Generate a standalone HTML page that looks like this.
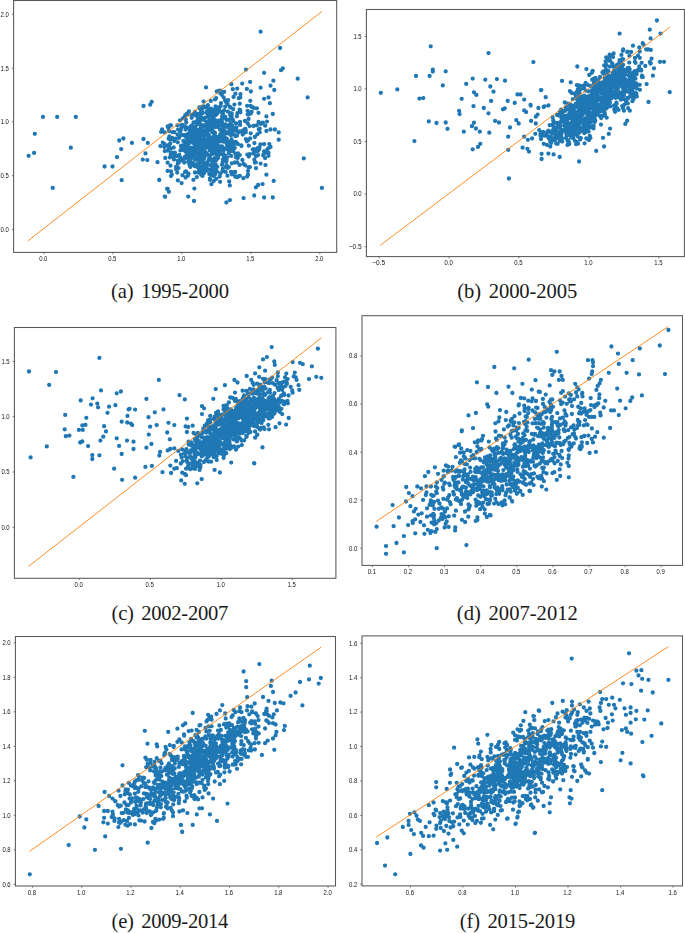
<!DOCTYPE html>
<html><head><meta charset="utf-8"><style>html,body{margin:0;padding:0;background:#fff}svg{display:block}.t{font-family:"Liberation Sans",sans-serif;font-size:7.3px;fill:#161616}.c{font-family:"Liberation Serif",serif;font-size:20.6px;fill:#1a1a1a;word-spacing:2.6px}</style></head><body>
<svg width="685" height="933" viewBox="0 0 685 933">
<defs><filter id="nf" filterUnits="userSpaceOnUse" x="0" y="0" width="685" height="933"><feOffset dx="0" dy="0"/></filter></defs>
<rect width="685" height="933" fill="#fff"/>
<g>
<path d="M43.0 116.9h0M57.2 116.9h0M75.8 116.9h0M34.8 133.8h0M34.1 152.9h0M28.6 155.8h0M70.8 147.7h0M52.7 187.9h0M104.6 166.5h0M112.5 166.5h0M117.0 157.1h0M121.2 149.1h0M119.2 140.5h0M123.4 138.5h0M131.9 142.9h0M121.7 180.2h0M143.5 139.0h0M147.8 142.9h0M145.5 153.4h0M142.8 159.6h0M147.3 160.1h0M159.2 179.9h0M167.1 188.9h0M168.9 191.8h0M165.1 196.8h0M143.5 106.0h0M150.2 104.7h0M151.7 101.8h0M260.6 31.7h0M280.1 48.0h0M246.0 69.6h0M264.1 72.8h0M281.0 70.2h0M282.8 68.5h0M297.7 78.7h0M307.6 97.4h0M303.8 158.4h0M321.9 187.9h0M273.4 80.7h0M270.5 85.7h0M274.3 90.0h0M260.6 87.7h0M250.1 81.9h0M242.2 83.6h0M231.4 84.2h0M206.0 87.4h0M216.8 91.5h0M232.8 89.2h0M237.2 88.6h0M246.9 88.9h0M250.9 91.5h0M264.1 98.8h0M268.5 97.4h0M269.9 103.2h0M272.8 114.0h0M266.4 116.4h0M267.0 121.6h0M266.4 131.0h0M270.5 129.5h0M274.9 129.5h0M278.7 132.4h0M278.7 139.7h0M258.8 129.5h0M259.7 132.4h0M264.1 144.1h0M269.3 144.1h0M270.5 147.0h0M264.1 151.4h0M268.5 152.8h0M268.5 155.8h0M260.6 163.6h0M265.5 165.1h0M266.4 174.7h0M273.7 180.9h0M258.2 185.0h0M262.6 184.1h0M255.9 187.3h0M254.2 195.5h0M264.1 197.5h0M272.8 197.5h0M243.6 198.1h0M226.4 202.5h0M229.9 200.1h0M194.0 201.0h0M188.2 196.6h0M164.8 196.6h0M167.7 188.8h0M159.3 180.0h0M157.5 162.2h0M160.4 146.1h0M162.8 142.6h0M232.6 145.7h0M195.5 166.2h0M234.7 147.8h0M210.1 146.6h0M199.0 152.6h0M224.1 157.3h0M201.6 160.7h0M205.3 133.2h0M185.6 129.6h0M220.1 129.8h0M220.1 151.1h0M202.5 161.4h0M199.9 135.9h0M192.6 155.0h0M192.7 163.0h0M193.0 148.0h0M185.3 146.0h0M233.2 121.3h0M201.3 160.9h0M191.7 117.8h0M205.4 155.1h0M207.9 105.2h0M206.6 132.2h0M209.7 148.6h0M184.9 156.7h0M201.0 134.6h0M219.0 122.5h0M209.5 126.4h0M191.6 125.7h0M213.4 146.4h0M213.0 142.5h0M224.1 110.3h0M179.7 161.1h0M207.3 127.3h0M210.0 178.4h0M199.3 130.8h0M208.5 129.0h0M200.7 148.8h0M207.8 135.5h0M208.0 140.7h0M193.0 140.9h0M206.7 123.0h0M225.3 133.8h0M198.1 157.5h0M211.9 140.2h0M198.6 145.1h0M193.9 134.9h0M196.9 124.5h0M211.5 131.0h0M185.7 147.1h0M217.3 156.9h0M200.0 144.9h0M180.9 146.0h0M219.2 154.6h0M210.6 165.5h0M203.9 173.2h0M223.9 130.3h0M204.1 158.0h0M226.5 101.4h0M172.5 132.2h0M232.6 128.7h0M183.9 135.2h0M201.4 155.8h0M183.4 141.0h0M218.2 150.7h0M213.5 161.5h0M218.4 138.6h0M201.4 146.8h0M219.6 125.6h0M213.7 138.5h0M205.9 132.4h0M208.6 130.4h0M212.2 143.2h0M202.2 146.8h0M204.9 164.0h0M195.7 164.7h0M208.9 147.9h0M213.1 144.3h0M221.6 134.5h0M193.4 131.4h0M205.3 147.8h0M227.5 141.6h0M216.3 145.8h0M182.6 145.5h0M213.2 117.9h0M202.7 155.6h0M214.3 136.4h0M209.4 143.7h0M224.6 130.8h0M237.4 113.2h0M215.9 169.4h0M215.0 133.0h0M218.6 120.6h0M197.7 131.4h0M194.9 112.0h0M181.6 183.1h0M176.1 169.2h0M185.3 115.1h0M198.9 169.9h0M223.8 148.2h0M183.2 135.2h0M215.3 148.2h0M228.9 133.7h0M232.5 125.8h0M231.5 133.2h0M195.2 150.6h0M192.5 151.5h0M208.8 138.9h0M216.0 108.0h0M202.5 166.7h0M184.2 162.6h0M175.7 138.6h0M196.0 152.3h0M204.5 169.0h0M189.7 136.7h0M215.2 148.4h0M235.8 157.2h0M198.6 150.0h0M210.9 160.6h0M240.0 121.9h0M212.0 152.4h0M206.4 170.7h0M218.3 146.2h0M206.9 121.6h0M209.5 137.6h0M209.3 155.5h0M219.0 111.5h0M217.7 123.8h0M189.4 164.5h0M179.7 130.0h0M200.2 120.3h0M191.1 156.2h0M206.2 126.9h0M205.6 139.8h0M204.9 140.7h0M185.3 148.8h0M201.4 146.0h0M213.1 153.4h0M203.1 149.8h0M211.8 127.5h0M188.1 138.8h0M190.2 164.4h0M199.8 116.4h0M204.8 156.3h0M215.3 151.2h0M223.9 132.1h0M228.5 148.0h0M215.9 141.2h0M192.1 163.6h0M202.2 159.0h0M209.4 157.2h0M215.3 123.3h0M192.4 126.5h0M200.5 124.5h0M212.1 121.3h0M187.4 151.5h0M229.6 146.8h0M197.5 123.3h0M196.9 140.6h0M202.7 144.4h0M201.7 148.0h0M212.5 162.4h0M222.0 121.7h0M201.2 130.6h0M192.5 157.5h0M207.3 146.5h0M196.8 158.5h0M195.0 130.2h0M171.0 148.6h0M200.5 132.2h0M214.7 134.8h0M204.9 152.2h0M219.3 146.5h0M236.2 123.5h0M241.4 146.0h0M174.3 141.0h0M219.3 138.5h0M178.0 160.7h0M215.2 143.8h0M202.6 147.7h0M188.5 158.8h0M180.0 120.3h0M196.4 138.0h0M186.9 135.4h0M172.3 138.0h0M204.0 106.3h0M182.0 149.9h0M210.9 119.7h0M197.3 144.8h0M167.6 170.9h0M212.4 121.6h0M199.7 108.6h0M234.9 135.1h0M191.2 128.3h0M209.9 179.8h0M200.6 116.3h0M198.1 159.5h0M240.0 131.4h0M196.3 140.4h0M204.9 151.5h0M225.4 117.1h0M219.1 141.0h0M224.4 138.4h0M212.6 122.8h0M218.5 107.3h0M212.4 171.6h0M184.6 126.3h0M198.9 138.9h0M189.9 130.8h0M197.9 119.9h0M195.4 126.9h0M216.2 153.1h0M223.5 153.9h0M190.4 135.6h0M193.8 158.1h0M198.6 163.8h0M222.6 127.1h0M203.4 146.3h0M212.3 109.7h0M219.6 148.1h0M218.0 141.7h0M201.1 111.6h0M197.3 154.9h0M212.4 153.9h0M213.5 161.0h0M191.3 136.2h0M229.8 125.1h0M225.2 106.6h0M222.5 154.5h0M202.8 133.2h0M197.4 138.2h0M177.3 167.7h0M213.7 181.1h0M185.5 150.5h0M174.9 152.6h0M190.8 153.7h0M200.1 142.0h0M194.8 145.5h0M194.2 137.4h0M233.8 130.8h0M207.5 163.9h0M216.5 153.6h0M190.6 138.5h0M207.7 123.0h0M229.5 145.5h0M206.8 111.6h0M221.2 125.7h0M227.1 147.4h0M215.6 115.1h0M232.5 149.3h0M200.2 138.5h0M199.6 152.6h0M216.4 146.4h0M173.7 147.5h0M197.2 159.5h0M177.6 134.6h0M199.8 123.4h0M227.2 157.3h0M201.5 172.0h0M222.0 164.7h0M202.1 126.2h0M200.7 118.8h0M189.6 142.2h0M219.3 141.6h0M228.5 126.3h0M215.8 138.4h0M180.4 150.4h0M196.6 135.0h0M211.0 108.6h0M207.0 133.9h0M211.0 144.5h0M201.4 125.2h0M218.0 150.8h0M185.4 151.4h0M224.6 137.9h0M234.7 148.0h0M194.3 152.8h0M213.4 110.4h0M205.2 117.6h0M216.0 122.5h0M196.5 121.7h0M186.1 141.1h0M188.1 158.6h0M179.4 161.5h0M210.6 143.2h0M181.3 125.2h0M210.4 123.9h0M218.1 151.4h0M171.0 171.3h0M225.7 155.9h0M218.6 150.3h0M211.4 174.5h0M224.7 138.1h0M219.9 135.5h0M218.3 141.3h0M217.4 166.8h0M185.9 137.0h0M203.9 148.3h0M201.5 135.9h0M194.3 138.1h0M188.8 156.4h0M221.6 119.2h0M185.6 135.1h0M186.6 136.6h0M171.8 174.7h0M195.8 149.8h0M229.1 119.7h0M231.7 113.4h0M199.7 150.3h0M223.0 137.2h0M201.9 168.8h0M196.7 164.1h0M216.5 148.6h0M198.9 121.6h0M186.5 144.2h0M171.9 153.0h0M211.6 126.2h0M189.1 143.3h0M210.1 142.5h0M207.2 134.8h0M211.4 159.6h0M237.7 158.1h0M212.3 130.1h0M217.5 137.2h0M188.6 152.4h0M196.1 144.3h0M199.9 147.8h0M222.1 116.1h0M184.2 158.9h0M190.9 126.4h0M203.5 118.3h0M196.3 146.2h0M181.3 128.2h0M198.3 172.6h0M194.4 188.6h0M204.0 142.1h0M209.5 115.4h0M199.4 131.1h0M210.0 145.6h0M168.7 138.7h0M195.9 146.5h0M182.7 146.0h0M206.4 142.8h0M202.2 125.9h0M221.2 125.5h0M198.0 164.3h0M212.1 153.8h0M205.8 125.4h0M177.7 163.7h0M202.2 157.8h0M213.7 140.9h0M210.1 155.1h0M231.1 135.3h0M226.9 144.5h0M214.7 152.8h0M188.2 161.9h0M203.8 148.1h0M231.1 155.9h0M185.8 119.6h0M215.1 174.3h0M213.1 136.9h0M167.6 162.7h0M204.3 130.9h0M221.0 136.8h0M222.4 140.7h0M189.8 165.5h0M213.9 176.0h0M216.3 160.0h0M198.4 136.9h0M225.6 171.9h0M190.7 147.6h0M194.3 131.8h0M168.6 149.2h0M211.9 140.7h0M223.6 159.8h0M223.7 150.3h0M217.1 145.7h0M218.6 125.3h0M179.3 155.0h0M203.0 148.7h0M191.5 115.0h0M208.2 114.9h0M194.8 166.2h0M206.9 153.3h0M224.5 141.5h0M198.9 146.3h0M210.7 126.7h0M202.5 156.8h0M186.1 151.3h0M214.5 132.5h0M204.3 154.8h0M207.1 132.8h0M203.9 142.1h0M202.0 128.4h0M197.0 143.1h0M211.4 128.7h0M230.4 123.4h0M214.9 166.9h0M215.0 99.4h0M190.3 166.9h0M200.9 126.8h0M213.6 149.5h0M203.9 125.5h0M221.9 131.9h0M215.2 146.7h0M187.7 146.4h0M213.0 166.2h0M195.6 153.5h0M209.2 147.1h0M212.2 139.7h0M222.9 168.7h0M233.2 109.1h0M205.4 132.0h0M215.0 153.7h0M207.4 129.0h0M209.9 123.3h0M206.2 142.0h0M191.3 154.8h0M196.6 115.9h0M208.7 160.5h0M211.4 145.1h0M177.8 142.3h0M188.0 175.5h0M213.1 168.0h0M196.9 142.8h0M215.1 127.1h0M203.9 159.1h0M237.8 144.0h0M235.7 141.9h0M224.6 118.2h0M186.5 143.5h0M217.6 127.1h0M201.1 139.6h0M197.8 167.2h0M221.5 148.4h0M228.4 125.3h0M189.2 151.9h0M199.6 161.2h0M213.2 149.7h0M232.7 119.3h0M189.4 149.2h0M200.7 173.3h0M220.6 121.6h0M220.5 146.9h0M223.0 141.7h0M220.7 106.1h0M207.0 168.6h0M199.1 134.2h0M225.6 157.4h0M201.3 140.8h0M212.1 125.1h0M188.2 156.9h0M222.0 131.2h0M212.3 121.2h0M206.4 133.9h0M199.1 169.9h0M182.2 149.9h0M201.1 156.8h0M210.1 158.1h0M206.5 143.7h0M229.7 130.0h0M211.4 145.8h0M214.6 158.1h0M207.6 143.9h0M201.4 148.9h0M208.0 126.1h0M195.4 154.2h0M207.3 145.2h0M211.2 128.9h0M226.8 138.7h0M165.3 158.0h0M210.7 145.3h0M213.3 146.9h0M178.5 168.1h0M189.7 137.9h0M214.3 113.6h0M215.7 164.5h0M180.3 131.6h0M231.6 139.4h0M214.2 167.8h0M171.0 176.0h0M198.4 155.3h0M200.6 154.0h0M216.3 114.5h0M205.2 107.3h0M193.6 156.9h0M211.3 148.1h0M224.9 148.8h0M227.4 133.0h0M201.1 142.5h0M166.9 145.4h0M212.9 139.3h0M177.9 180.4h0M214.7 119.5h0M232.1 151.0h0M186.8 154.6h0M170.5 165.7h0M219.3 109.8h0M209.4 112.9h0M211.7 138.2h0M201.6 141.6h0M200.2 147.9h0M193.2 143.0h0M204.8 170.4h0M200.4 160.7h0M169.2 146.8h0M231.5 150.7h0M224.8 117.2h0M170.3 139.7h0M215.4 137.5h0M209.5 141.3h0M232.7 141.9h0M201.1 144.9h0M209.3 174.0h0M228.5 132.0h0M214.4 137.2h0M201.4 151.4h0M206.2 140.7h0M224.5 131.2h0M202.3 109.0h0M182.5 175.2h0M210.7 145.7h0M174.0 159.6h0M192.3 127.6h0M193.9 128.6h0M212.5 145.0h0M204.9 136.1h0M164.8 151.1h0M198.0 113.8h0M192.6 127.3h0M209.3 146.8h0M202.5 149.3h0M211.9 144.0h0M173.7 157.4h0M243.1 130.5h0M209.6 150.2h0M207.6 139.8h0M200.1 129.9h0M188.6 151.5h0M213.3 145.9h0M237.0 135.7h0M209.9 170.0h0M181.5 135.2h0M210.6 137.7h0M247.2 176.6h0M251.6 111.8h0M248.0 174.4h0M201.8 151.6h0M220.4 134.1h0M231.6 116.0h0M235.3 176.7h0M202.7 113.0h0M229.9 130.6h0M178.5 162.1h0M204.4 136.7h0M234.9 162.5h0M178.7 162.7h0M253.4 149.2h0M222.9 159.6h0M207.6 129.9h0M210.2 127.6h0M212.4 126.9h0M255.8 162.4h0M170.7 154.5h0M196.5 130.8h0M258.6 122.0h0M216.5 143.8h0M207.0 162.3h0M258.1 155.1h0M194.6 114.8h0M220.1 181.8h0M231.9 174.3h0M257.3 148.3h0M213.4 165.0h0M247.8 123.4h0M216.0 143.7h0M190.0 160.3h0M231.1 113.1h0M239.8 175.8h0M248.6 167.5h0M201.2 174.8h0M218.1 157.9h0M187.7 127.7h0M188.8 149.0h0M176.6 156.0h0M221.5 112.2h0M245.0 121.0h0M240.1 124.9h0M207.8 164.6h0M177.2 172.5h0M200.8 158.0h0M235.2 172.0h0M248.8 156.6h0M208.0 108.3h0M249.6 154.2h0M169.4 136.4h0M193.3 165.1h0M181.9 148.0h0M265.1 158.1h0M250.6 105.8h0M188.9 111.4h0M219.5 90.6h0M248.8 145.7h0M253.4 153.4h0M221.0 103.2h0M170.2 143.6h0M240.4 112.3h0M232.9 145.3h0M268.2 148.3h0M245.7 130.0h0M212.2 173.6h0M256.7 125.3h0M208.8 159.4h0M222.0 146.3h0M226.6 139.3h0M169.9 125.9h0M247.3 154.7h0M245.2 128.8h0M257.9 150.9h0M216.2 109.8h0M221.0 146.6h0M228.6 141.6h0M254.3 159.6h0M233.6 96.9h0M236.2 142.6h0M222.7 162.3h0M209.3 120.2h0M216.1 98.2h0M249.9 167.1h0M206.7 112.8h0M208.8 134.8h0M204.6 143.0h0M174.7 154.8h0M181.7 160.0h0M164.4 147.1h0M218.9 121.5h0M221.8 94.8h0M254.9 162.6h0M240.2 110.3h0M224.2 91.8h0M190.9 135.6h0M229.9 107.0h0M199.8 163.1h0M249.5 126.1h0M186.2 122.6h0M250.7 133.3h0M241.4 145.5h0M263.6 154.8h0M180.3 157.4h0M215.5 106.5h0M196.9 159.1h0M199.9 117.7h0M201.5 113.1h0M167.9 150.7h0M215.3 143.5h0M222.4 171.3h0M201.6 106.9h0M238.8 98.2h0M188.4 135.6h0M253.7 107.9h0M185.8 143.5h0M250.8 113.5h0M171.3 152.9h0M187.5 114.6h0M238.2 154.6h0M240.5 94.1h0M203.9 156.3h0M236.7 176.3h0M222.9 113.2h0M206.3 129.8h0M243.6 163.9h0M222.8 134.0h0M194.9 172.5h0M230.0 129.1h0M211.0 143.6h0M217.2 113.5h0M247.6 110.8h0M248.6 119.0h0M209.6 147.7h0M168.4 127.9h0M205.6 166.6h0M213.2 126.2h0M265.2 152.8h0M224.8 137.9h0M170.0 125.3h0M186.0 171.3h0M206.8 168.8h0M257.3 134.3h0M242.4 160.0h0M188.5 173.7h0M232.9 172.8h0M193.6 122.5h0M234.1 172.6h0M230.1 114.9h0M190.6 129.0h0M204.9 148.0h0M254.4 143.1h0M169.9 139.4h0M169.0 131.0h0M223.6 97.3h0M204.7 145.1h0M178.1 129.6h0M231.2 144.1h0M231.8 141.0h0M209.8 112.2h0M267.3 149.7h0M259.2 149.3h0M228.8 152.9h0M203.6 101.6h0M247.7 114.4h0M185.1 171.9h0M218.7 123.8h0M188.0 133.9h0M208.4 116.9h0M239.6 109.6h0M170.6 125.1h0M185.5 151.5h0M231.1 149.3h0M199.5 142.4h0M250.3 100.8h0M260.4 144.3h0M255.5 151.6h0M245.3 165.4h0M259.7 128.7h0M239.8 155.1h0M182.3 124.9h0M231.0 116.3h0M265.2 125.7h0M258.5 112.8h0M167.7 126.4h0M171.0 125.3h0M234.6 143.8h0M225.1 100.2h0M226.0 102.0h0M188.0 154.9h0M248.4 114.4h0M194.1 132.8h0M239.6 164.9h0M231.0 171.9h0M227.8 111.6h0M242.7 134.2h0M194.7 159.4h0M220.4 93.2h0M216.3 178.8h0M259.5 147.2h0M177.3 125.3h0M254.8 137.0h0M212.1 137.9h0M236.9 116.3h0M195.9 159.7h0M184.9 117.1h0M260.8 123.9h0M193.4 179.8h0M203.4 166.7h0M185.6 177.5h0M202.5 175.9h0M256.0 168.2h0M242.7 134.6h0M197.7 119.6h0M190.9 131.9h0M235.4 93.7h0M231.8 163.3h0M204.8 125.1h0M220.4 173.4h0M225.4 124.4h0M228.9 167.1h0M218.2 126.9h0M237.4 177.2h0M237.0 131.0h0M227.5 175.7h0M205.1 139.4h0M200.4 148.0h0M226.8 127.1h0M252.8 149.6h0M222.0 133.9h0M224.7 156.9h0M212.1 115.7h0M237.2 162.4h0M188.6 133.7h0M179.0 137.9h0M227.6 167.9h0M192.8 138.6h0M228.1 149.7h0M250.1 138.4h0M228.1 100.2h0M219.7 176.5h0M222.0 125.0h0M193.8 114.0h0M211.9 112.0h0M246.9 141.3h0M180.9 129.6h0M225.1 116.6h0M235.3 153.5h0M240.3 97.4h0M186.6 152.4h0M227.6 104.0h0M219.1 148.3h0M201.2 128.4h0M196.8 177.1h0M225.9 166.8h0M161.1 131.8h0M164.4 144.1h0M248.3 140.0h0M247.2 105.8h0M187.0 113.7h0M216.9 171.6h0M191.2 154.2h0M192.1 130.2h0M211.4 184.2h0M210.0 110.2h0M174.3 132.2h0M220.7 91.0h0M248.0 170.8h0M194.9 131.2h0M217.4 152.4h0M230.5 107.5h0M204.9 139.3h0M226.5 161.2h0M235.5 136.2h0M169.9 157.4h0M263.3 155.4h0M213.0 125.5h0M236.5 143.3h0M256.0 156.2h0M229.8 185.4h0M263.4 154.7h0M233.4 172.1h0M162.1 129.3h0M203.5 156.4h0M211.5 128.6h0M226.5 165.2h0M212.5 132.3h0M200.6 160.0h0M164.7 132.4h0M199.3 107.5h0M233.0 150.8h0M210.8 100.9h0M183.1 118.2h0M212.7 145.6h0M176.0 166.9h0M198.7 129.7h0M226.7 119.9h0M238.0 153.4h0M229.2 181.4h0M256.9 108.3h0M238.7 132.3h0M213.9 139.9h0M184.7 150.1h0M226.6 158.6h0M222.1 140.9h0M245.8 132.3h0M236.4 127.6h0M262.9 122.6h0M207.3 144.6h0M203.8 120.0h0M232.0 131.3h0M251.7 106.9h0M223.1 127.8h0M201.0 170.0h0M188.4 161.1h0M214.3 171.7h0M234.4 104.6h0M245.9 139.2h0M200.0 166.6h0M206.2 154.8h0M239.8 103.7h0M202.1 162.8h0M243.4 178.2h0M253.5 126.0h0M188.7 160.9h0" stroke="#1f77b4" stroke-width="4.30" stroke-linecap="round" fill="none"/>
<line x1="28.0" y1="240.8" x2="322.0" y2="11.4" stroke="#ff7f0e" stroke-width="0.9"/>
<rect x="13.6" y="0.5" width="323.1" height="251.9" fill="none" stroke="#585858" stroke-width="1.05"/>
<path d="M43.8 252.4v1.8M112.8 252.4v1.8M181.8 252.4v1.8M250.8 252.4v1.8M319.8 252.4v1.8M13.6 229.4h-1.8M13.6 175.7h-1.8M13.6 121.9h-1.8M13.6 68.2h-1.8M13.6 14.4h-1.8" stroke="#4a4a4a" stroke-width="0.7" fill="none"/>
<g filter="url(#nf)"><text class="t" x="43.3" y="261.2" text-anchor="middle" textLength="8.3" lengthAdjust="spacingAndGlyphs">0.0</text><text class="t" x="112.3" y="261.2" text-anchor="middle" textLength="8.3" lengthAdjust="spacingAndGlyphs">0.5</text><text class="t" x="181.3" y="261.2" text-anchor="middle" textLength="8.3" lengthAdjust="spacingAndGlyphs">1.0</text><text class="t" x="250.3" y="261.2" text-anchor="middle" textLength="8.3" lengthAdjust="spacingAndGlyphs">1.5</text><text class="t" x="319.3" y="261.2" text-anchor="middle" textLength="8.3" lengthAdjust="spacingAndGlyphs">2.0</text><text class="t" x="8.9" y="231.7" text-anchor="end" textLength="8.3" lengthAdjust="spacingAndGlyphs">0.0</text><text class="t" x="8.9" y="178.0" text-anchor="end" textLength="8.3" lengthAdjust="spacingAndGlyphs">0.5</text><text class="t" x="8.9" y="124.2" text-anchor="end" textLength="8.3" lengthAdjust="spacingAndGlyphs">1.0</text><text class="t" x="8.9" y="70.5" text-anchor="end" textLength="8.3" lengthAdjust="spacingAndGlyphs">1.5</text><text class="t" x="8.9" y="16.7" text-anchor="end" textLength="8.3" lengthAdjust="spacingAndGlyphs">2.0</text></g>
<text class="c" x="111.0" y="298.0" textLength="118.0" lengthAdjust="spacing">(a) 1995-2000</text>
</g>
<g>
<path d="M380.8 92.8h0M397.3 89.4h0M430.7 46.3h0M416.0 76.0h0M429.6 76.0h0M432.8 69.7h0M432.8 71.5h0M445.7 71.3h0M442.8 85.4h0M419.4 98.6h0M423.3 98.1h0M428.8 121.4h0M436.5 123.0h0M445.7 122.5h0M447.5 128.8h0M414.4 141.1h0M461.7 98.8h0M459.1 110.9h0M459.6 114.1h0M466.2 83.9h0M472.7 78.6h0M474.0 92.3h0M476.4 94.9h0M473.5 106.2h0M474.0 122.7h0M471.9 126.2h0M475.9 128.5h0M479.8 131.7h0M463.8 131.7h0M472.7 149.3h0M478.0 146.9h0M480.3 143.8h0M488.5 53.1h0M485.3 79.7h0M490.3 86.5h0M493.5 91.7h0M496.9 79.1h0M505.0 80.7h0M491.1 100.9h0M483.8 108.0h0M488.5 113.3h0M489.3 132.7h0M495.1 120.9h0M499.0 122.5h0M502.9 109.3h0M504.8 108.3h0M507.7 100.9h0M514.8 102.8h0M517.4 94.4h0M520.5 94.4h0M524.2 99.6h0M530.5 104.9h0M533.4 62.1h0M541.0 90.2h0M524.2 110.4h0M526.1 112.0h0M516.3 120.1h0M518.7 123.5h0M510.0 127.5h0M508.2 136.7h0M508.2 149.8h0M531.1 120.9h0M535.8 116.7h0M537.6 114.6h0M538.4 108.0h0M543.7 107.0h0M535.8 123.5h0M524.2 136.7h0M527.9 139.8h0M532.1 138.5h0M535.3 133.8h0M539.2 130.1h0M541.0 139.0h0M522.6 147.7h0M527.4 148.8h0M529.0 151.6h0M541.6 153.8h0M541.6 159.0h0M543.7 143.8h0M656.9 20.5h0M649.8 29.7h0M660.5 33.6h0M650.6 38.4h0M619.6 33.6h0M633.0 45.7h0M643.5 44.7h0M648.2 49.4h0M650.8 49.9h0M651.6 58.6h0M660.0 61.8h0M664.0 61.8h0M669.7 92.2h0M654.0 68.3h0M652.9 75.7h0M648.5 102.0h0M577.3 66.5h0M586.4 69.1h0M562.0 80.9h0M570.7 82.3h0M541.3 90.1h0M545.7 97.2h0M606.2 57.3h0M609.6 54.7h0M623.2 49.4h0M627.2 52.0h0M631.1 52.0h0M579.1 161.5h0M559.7 157.0h0M548.4 153.6h0M553.6 154.4h0M596.2 150.9h0M604.1 146.5h0M508.9 178.5h0M603.0 137.8h0M608.8 133.9h0M610.1 128.6h0M625.3 123.9h0M627.2 120.7h0M629.8 110.7h0M514.7 102.9h0M530.7 105.5h0M544.4 106.3h0M548.4 105.5h0M547.0 132.5h0M548.4 136.5h0M547.0 144.9h0M589.4 103.1h0M558.6 137.0h0M610.0 102.6h0M575.1 125.2h0M611.1 56.0h0M599.7 108.9h0M610.8 93.6h0M598.3 80.3h0M582.0 108.0h0M579.1 112.3h0M604.5 103.5h0M591.2 104.1h0M584.5 121.5h0M567.0 121.7h0M592.7 71.0h0M544.3 135.7h0M607.1 71.2h0M610.0 97.4h0M598.8 88.2h0M591.7 90.6h0M631.6 74.2h0M612.4 84.0h0M580.2 108.3h0M621.1 82.9h0M590.4 102.6h0M608.5 71.2h0M584.6 99.6h0M603.6 115.5h0M589.4 104.1h0M597.9 91.7h0M553.1 129.8h0M583.6 125.5h0M610.5 76.6h0M584.1 95.6h0M590.2 100.9h0M574.2 93.6h0M614.3 109.5h0M594.5 99.5h0M617.2 64.8h0M589.7 120.1h0M629.4 55.9h0M588.4 98.6h0M607.3 81.3h0M603.3 73.5h0M559.9 111.7h0M607.3 91.4h0M624.8 70.2h0M573.4 109.1h0M639.8 57.8h0M582.7 115.1h0M591.5 108.0h0M578.6 118.4h0M592.6 106.6h0M583.1 119.2h0M575.9 107.2h0M591.5 95.3h0M616.6 65.1h0M615.6 95.1h0M623.6 98.9h0M596.2 103.6h0M575.0 105.8h0M594.7 85.2h0M565.6 109.8h0M609.9 85.0h0M567.0 122.9h0M638.9 69.8h0M614.3 74.2h0M612.2 84.8h0M593.7 125.9h0M612.4 79.2h0M623.8 79.5h0M637.7 70.9h0M570.7 104.7h0M588.3 119.5h0M601.6 83.2h0M604.2 84.6h0M606.9 78.9h0M590.6 112.8h0M607.6 92.4h0M585.5 90.6h0M628.6 68.2h0M588.6 96.4h0M617.3 72.7h0M566.2 124.6h0M606.8 80.9h0M620.3 68.8h0M573.4 123.9h0M571.4 92.9h0M602.8 84.9h0M621.9 81.6h0M573.0 120.5h0M595.4 78.3h0M618.2 94.2h0M613.6 74.2h0M575.0 114.9h0M557.4 122.8h0M591.7 118.1h0M583.1 104.1h0M586.4 100.8h0M611.1 96.5h0M591.8 72.8h0M601.5 104.0h0M600.1 111.5h0M624.1 70.9h0M623.1 64.8h0M607.5 75.8h0M603.1 100.4h0M575.9 118.6h0M560.4 125.7h0M569.3 144.1h0M596.9 100.5h0M595.2 90.8h0M584.9 100.9h0M610.2 90.7h0M592.4 93.1h0M600.0 92.1h0M545.6 135.4h0M607.2 90.4h0M606.3 64.8h0M600.7 85.1h0M579.7 120.9h0M588.0 116.6h0M598.6 107.4h0M594.8 116.8h0M561.8 132.4h0M574.9 122.0h0M585.1 110.3h0M622.2 59.4h0M615.0 87.3h0M632.3 89.2h0M553.5 126.6h0M598.7 97.0h0M599.5 115.8h0M572.9 99.2h0M621.8 86.8h0M642.0 75.7h0M586.0 101.3h0M572.0 122.1h0M594.9 103.3h0M618.3 72.5h0M574.2 123.0h0M602.8 92.9h0M581.1 103.3h0M617.1 89.2h0M616.4 102.6h0M562.7 116.5h0M580.1 122.5h0M592.9 108.5h0M606.1 108.4h0M601.2 118.0h0M612.2 77.7h0M629.7 69.4h0M584.1 88.2h0M614.7 106.2h0M615.5 85.3h0M623.6 80.9h0M616.4 79.1h0M611.9 85.3h0M589.5 101.5h0M612.9 78.9h0M634.9 61.8h0M613.0 57.0h0M600.2 87.1h0M585.3 105.0h0M635.5 62.8h0M631.2 83.9h0M567.4 115.4h0M626.7 89.8h0M595.0 105.5h0M608.1 88.8h0M619.6 60.1h0M593.8 114.2h0M611.4 87.6h0M624.4 77.4h0M617.3 76.5h0M594.5 104.3h0M617.5 82.4h0M614.6 81.5h0M570.1 113.3h0M633.4 72.6h0M573.6 108.3h0M639.7 51.5h0M635.0 58.0h0M594.1 97.0h0M596.5 86.0h0M579.0 90.4h0M602.0 97.8h0M617.0 108.0h0M580.1 118.1h0M617.1 87.4h0M630.6 76.4h0M610.4 95.4h0M624.6 78.5h0M610.4 92.6h0M574.5 116.9h0M623.3 89.4h0M564.5 125.5h0M616.2 95.4h0M586.6 102.2h0M591.4 97.2h0M625.4 74.4h0M597.3 86.4h0M597.4 108.6h0M576.1 127.1h0M641.6 62.8h0M611.7 76.0h0M577.8 103.2h0M586.1 131.9h0M594.0 112.8h0M591.2 96.6h0M649.8 62.2h0M595.1 93.2h0M602.9 94.0h0M574.5 126.2h0M594.7 113.3h0M584.0 122.7h0M623.9 95.2h0M641.3 69.9h0M575.2 128.7h0M616.2 68.5h0M579.8 105.5h0M595.4 100.9h0M602.1 82.7h0M603.4 92.5h0M614.1 105.5h0M576.7 92.2h0M569.4 113.1h0M581.0 114.1h0M567.9 103.6h0M556.2 143.5h0M578.4 95.7h0M605.5 81.2h0M598.4 92.4h0M609.8 66.7h0M604.3 109.9h0M624.4 74.2h0M574.0 116.6h0M576.8 85.1h0M591.1 127.0h0M605.5 100.7h0M627.6 71.2h0M559.0 132.3h0M574.4 123.8h0M584.4 132.3h0M603.2 103.1h0M578.8 100.9h0M641.2 70.6h0M611.4 93.0h0M597.1 109.2h0M585.5 109.5h0M591.0 95.8h0M650.8 63.3h0M595.3 120.5h0M569.0 127.8h0M599.2 83.0h0M605.8 65.6h0M594.7 122.0h0M601.9 91.2h0M580.4 113.6h0M585.6 82.9h0M585.1 123.8h0M605.0 113.9h0M608.3 82.6h0M579.9 117.0h0M585.3 84.7h0M607.6 103.9h0M570.9 117.7h0M598.5 105.4h0M605.3 92.7h0M622.9 71.0h0M596.7 95.0h0M579.0 99.0h0M607.3 94.0h0M601.4 100.1h0M610.4 81.5h0M580.9 108.9h0M591.6 97.5h0M604.5 80.8h0M616.3 86.9h0M587.0 111.9h0M579.5 132.6h0M612.3 85.8h0M594.0 120.3h0M596.5 88.3h0M612.1 85.9h0M574.6 113.9h0M598.8 86.0h0M615.9 85.4h0M598.0 86.8h0M609.0 89.5h0M550.2 141.2h0M617.5 78.8h0M620.1 83.2h0M600.6 83.5h0M614.2 78.3h0M623.1 59.1h0M629.9 92.6h0M587.9 107.8h0M590.6 122.7h0M627.9 85.7h0M601.0 124.6h0M587.4 107.3h0M577.8 101.8h0M579.4 87.4h0M611.3 89.6h0M570.1 107.8h0M603.5 71.4h0M579.3 112.4h0M591.9 103.3h0M622.4 66.1h0M584.4 107.4h0M593.6 87.7h0M594.8 112.7h0M591.0 101.8h0M619.3 62.9h0M627.6 68.2h0M587.2 96.6h0M594.5 106.6h0M605.2 85.0h0M618.1 92.0h0M561.3 117.6h0M577.0 99.1h0M574.0 121.9h0M588.2 104.5h0M586.7 107.8h0M617.0 80.0h0M598.1 80.5h0M568.1 104.4h0M634.0 86.2h0M604.4 107.7h0M551.1 143.1h0M610.1 76.9h0M590.1 113.3h0M588.5 112.6h0M593.0 101.4h0M647.2 49.4h0M595.2 97.3h0M605.7 99.2h0M551.7 141.2h0M593.2 98.3h0M582.2 120.2h0M592.3 99.8h0M611.0 89.2h0M608.0 101.3h0M616.4 82.6h0M567.7 122.7h0M600.6 107.8h0M614.5 87.7h0M608.4 100.9h0M605.2 81.1h0M588.4 105.9h0M585.5 101.4h0M599.0 88.8h0M597.0 113.3h0M568.9 124.3h0M608.6 58.6h0M617.8 88.7h0M553.0 124.1h0M598.7 111.1h0M618.4 80.2h0M589.1 127.8h0M620.0 78.2h0M592.8 112.4h0M590.2 86.0h0M610.1 60.7h0M622.2 72.8h0M618.6 78.0h0M566.0 128.4h0M606.0 101.9h0M586.9 120.6h0M636.3 83.5h0M575.2 125.0h0M620.3 64.2h0M586.1 97.6h0M578.6 110.9h0M597.6 113.3h0M591.9 117.7h0M549.7 125.2h0M611.7 82.7h0M621.0 99.7h0M629.9 85.3h0M607.1 82.9h0M622.8 50.8h0M606.5 94.2h0M573.9 111.0h0M579.8 127.4h0M594.2 90.0h0M591.8 114.2h0M601.9 108.8h0M564.8 102.5h0M604.2 65.4h0M565.8 107.2h0M593.9 104.6h0M608.2 85.4h0M588.5 91.3h0M614.2 71.8h0M607.7 97.5h0M583.1 99.6h0M577.8 89.4h0M599.5 104.9h0M622.0 77.6h0M625.6 71.8h0M638.3 69.7h0M562.2 115.7h0M639.2 66.5h0M568.9 109.4h0M608.9 92.3h0M607.9 88.1h0M573.0 106.2h0M587.5 116.2h0M593.5 79.0h0M642.7 43.2h0M587.7 117.0h0M606.5 91.3h0M601.9 107.4h0M578.9 124.4h0M616.1 68.1h0M583.5 99.4h0M613.1 93.7h0M599.0 84.5h0M576.1 96.6h0M594.2 98.0h0M593.3 118.6h0M606.4 89.4h0M589.6 105.1h0M608.1 89.9h0M586.9 103.3h0M615.6 81.7h0M580.9 98.2h0M592.1 92.7h0M595.5 109.9h0M570.2 128.8h0M593.5 128.4h0M607.3 74.4h0M593.3 113.7h0M561.5 121.0h0M608.0 87.3h0M614.3 91.9h0M593.1 96.0h0M593.7 92.8h0M609.9 90.2h0M577.2 121.2h0M623.3 91.9h0M600.1 107.0h0M650.4 63.6h0M612.9 96.8h0M606.7 105.2h0M617.1 97.3h0M588.8 123.5h0M589.9 102.0h0M611.0 85.2h0M585.1 108.4h0M607.5 88.9h0M597.8 106.0h0M589.8 95.8h0M578.1 117.8h0M600.4 89.7h0M607.4 91.1h0M553.2 120.4h0M621.2 62.5h0M606.4 78.4h0M592.1 114.7h0M594.8 101.4h0M621.0 67.8h0M587.1 109.7h0M597.6 95.3h0M630.2 77.4h0M627.2 91.4h0M583.3 85.8h0M607.1 87.7h0M611.5 88.4h0M599.6 92.0h0M603.2 87.4h0M585.4 101.1h0M582.4 100.5h0M594.6 95.5h0M604.5 100.6h0M586.4 106.9h0M608.3 76.0h0M597.1 105.5h0M603.6 92.0h0M615.1 67.4h0M587.7 104.9h0M615.6 73.8h0M599.6 85.0h0M586.0 110.0h0M605.0 104.4h0M633.2 79.1h0M573.2 111.1h0M555.8 134.1h0M594.6 82.2h0M569.7 114.5h0M613.2 96.1h0M606.1 69.5h0M609.3 97.3h0M586.0 126.2h0M588.8 110.5h0M629.3 91.7h0M563.4 120.2h0M611.5 92.6h0M602.7 83.8h0M614.8 78.3h0M610.4 106.3h0M616.2 80.2h0M580.0 114.9h0M591.9 107.7h0M594.7 103.5h0M606.9 60.7h0M592.2 79.7h0M595.5 77.8h0M618.9 70.1h0M594.4 95.9h0M628.1 98.4h0M583.1 123.5h0M578.0 103.4h0M617.1 83.8h0M623.7 85.6h0M585.2 104.1h0M607.6 90.2h0M574.8 106.4h0M636.6 70.9h0M599.2 109.2h0M598.6 107.2h0M602.5 72.4h0M610.4 95.6h0M616.6 103.7h0M625.6 70.7h0M574.9 117.8h0M578.4 85.3h0M611.3 98.6h0M583.6 104.9h0M585.8 102.3h0M607.0 107.7h0M612.2 63.4h0M605.6 82.0h0M587.1 110.9h0M605.3 101.6h0M562.6 112.6h0M584.1 103.9h0M601.0 88.4h0M611.8 78.5h0M592.0 90.1h0M590.5 97.2h0M584.6 105.2h0M579.5 92.3h0M605.7 99.4h0M558.6 135.6h0M627.5 81.5h0M620.3 81.6h0M591.0 114.9h0M604.7 77.6h0M615.6 75.8h0M575.1 112.5h0M572.7 126.6h0M606.3 103.6h0M608.7 92.1h0M629.8 73.9h0M608.5 75.5h0M610.4 78.8h0M558.8 115.4h0M561.2 133.8h0M581.9 112.4h0M574.9 116.8h0M580.6 112.9h0M615.1 111.8h0M595.6 100.8h0M562.2 130.2h0M628.3 68.9h0M584.1 98.3h0M604.7 108.4h0M588.5 104.8h0M597.0 93.3h0M596.9 97.1h0M584.9 111.7h0M585.2 100.2h0M594.2 107.3h0M613.6 53.5h0M593.8 83.6h0M585.3 103.6h0M617.8 66.7h0M645.3 66.0h0M600.0 77.0h0M627.4 84.2h0M598.4 82.5h0M626.0 86.4h0M606.7 117.7h0M621.4 55.0h0M574.3 116.8h0M567.1 125.5h0M610.9 78.3h0M607.8 106.1h0M579.9 85.6h0M603.9 96.7h0M604.4 98.3h0M602.5 102.2h0M583.7 127.0h0M638.0 55.7h0M612.7 73.2h0M596.0 111.3h0M610.2 77.4h0M610.8 90.9h0M565.0 110.9h0M608.0 88.8h0M593.6 100.8h0M586.3 123.8h0M596.4 102.5h0M606.0 93.6h0M605.2 105.8h0M608.9 60.6h0M596.6 88.7h0M618.4 75.4h0M604.2 111.1h0M580.6 89.2h0M603.4 88.8h0M622.4 68.5h0M555.4 136.7h0M608.4 96.8h0M581.8 100.4h0M594.7 95.8h0M595.2 96.1h0M605.6 61.3h0M607.9 97.1h0M607.4 85.1h0M614.4 79.7h0M633.1 81.9h0M571.3 111.7h0M617.6 74.9h0M613.0 84.7h0M621.3 76.1h0M587.6 84.8h0M579.6 130.7h0M590.0 103.7h0M597.4 100.1h0M607.2 93.0h0M579.4 92.0h0M594.9 84.0h0M602.7 85.8h0M633.3 92.5h0M624.0 74.9h0M618.3 85.9h0M599.0 97.0h0M574.2 114.9h0M639.3 47.5h0M630.2 73.8h0M594.9 103.9h0M552.8 133.7h0M582.1 96.7h0M619.6 73.4h0M578.9 118.2h0M628.9 67.8h0M621.4 83.5h0M620.4 82.6h0M588.0 99.9h0M582.7 122.4h0M629.3 62.6h0M588.3 103.5h0M624.2 82.2h0M565.9 126.4h0M606.1 106.5h0M612.9 86.3h0M595.0 90.1h0M613.4 66.4h0M567.8 128.7h0M613.8 73.7h0M586.8 120.4h0M561.2 109.6h0M569.9 91.1h0M601.3 89.8h0M591.6 107.9h0M584.3 133.1h0M607.0 88.6h0M583.3 95.9h0M585.1 128.6h0M573.7 115.4h0M605.3 66.3h0M589.2 96.2h0M620.8 70.8h0M604.6 105.8h0M589.2 75.0h0M601.9 93.7h0M571.9 113.1h0M636.6 74.2h0M577.3 113.0h0M586.7 113.5h0M646.1 49.3h0M565.7 122.2h0M618.0 85.1h0M615.5 97.8h0M609.0 88.8h0M609.9 88.2h0M582.5 103.5h0M607.5 80.9h0M566.7 127.2h0M592.2 104.8h0M589.0 102.5h0M627.5 51.7h0M623.2 70.2h0M609.2 99.9h0M622.3 86.6h0M600.7 100.2h0M603.1 111.3h0M590.4 113.6h0M572.7 137.3h0M619.1 94.8h0M613.1 87.0h0M607.2 90.0h0M595.6 115.1h0M618.6 109.8h0M581.2 119.5h0M600.5 104.1h0M610.3 86.5h0M614.0 70.4h0M577.7 120.9h0M575.6 103.9h0M593.9 106.1h0M567.7 116.1h0M595.6 97.8h0M588.0 123.7h0M624.0 77.2h0M601.7 104.0h0M625.8 86.5h0M585.6 118.3h0M571.4 107.9h0M585.7 120.1h0M592.4 105.4h0M596.8 105.7h0M601.3 116.1h0M575.7 105.3h0M614.8 107.3h0M604.4 92.9h0M621.7 92.6h0M604.7 81.2h0M565.8 130.6h0M617.1 85.4h0M616.2 81.0h0M565.7 120.7h0M605.1 98.9h0M619.3 97.7h0M595.3 103.3h0M578.4 131.0h0M567.5 144.9h0M583.1 128.9h0M562.2 141.5h0M580.9 138.1h0M577.0 133.5h0M569.1 132.1h0M576.5 120.5h0M554.6 122.6h0M578.6 116.8h0M588.9 140.0h0M560.1 128.5h0M582.6 120.3h0M573.5 123.2h0M554.2 133.1h0M565.6 131.6h0M556.9 134.1h0M570.1 132.1h0M567.6 141.0h0M576.6 134.4h0M561.2 136.5h0M543.1 131.9h0M554.8 140.2h0M578.6 122.1h0M559.0 126.6h0M574.4 129.9h0M556.2 128.0h0M548.3 130.7h0M568.9 142.2h0M541.6 135.4h0M564.5 126.0h0M573.4 119.2h0M578.8 127.4h0M550.4 136.9h0M575.9 122.8h0M584.1 127.9h0M553.0 139.1h0M572.3 119.2h0M582.1 118.9h0M552.1 138.1h0M576.0 124.8h0M580.2 139.5h0M562.2 130.7h0M564.0 122.3h0M565.8 130.4h0M577.9 136.6h0M588.6 131.6h0M576.7 125.8h0M563.1 130.2h0M572.8 133.6h0M568.7 118.6h0M575.4 117.5h0M548.3 137.1h0M569.2 117.1h0M557.8 133.0h0M593.7 120.1h0M574.5 129.2h0M557.9 138.1h0M570.4 129.4h0M540.4 135.5h0M565.1 120.1h0M561.3 134.1h0M557.4 124.1h0M586.3 138.4h0M575.6 120.4h0M587.1 130.2h0M589.8 135.8h0M573.5 132.1h0M566.9 117.7h0M569.9 135.4h0M586.7 121.4h0M565.0 115.8h0M590.4 137.9h0M565.9 116.9h0M560.8 112.9h0M569.3 123.8h0M573.4 138.1h0M568.8 135.2h0M565.4 118.0h0M579.8 127.9h0M574.7 111.4h0M570.5 131.8h0M580.7 131.1h0M555.9 129.7h0M576.7 129.6h0M576.6 141.9h0M576.1 144.2h0M578.4 117.3h0M575.1 113.9h0M573.3 136.6h0M564.5 118.3h0M540.6 133.1h0M581.0 118.5h0M557.7 135.3h0M548.5 138.0h0M578.2 126.1h0M566.0 138.0h0M582.5 108.7h0M587.8 139.1h0M571.4 137.6h0M564.5 126.1h0M569.9 134.0h0M578.0 143.7h0M579.7 117.1h0M557.1 115.0h0M581.1 130.8h0M560.6 122.0h0M574.9 140.8h0M549.2 131.3h0M550.3 146.6h0M566.4 134.5h0M552.6 117.2h0M551.0 132.5h0M568.8 127.1h0M577.7 106.8h0M561.9 138.5h0M584.6 143.3h0M552.5 139.2h0M559.7 140.7h0M555.3 138.8h0M589.4 117.0h0M571.4 136.0h0M571.3 125.7h0M557.7 143.8h0M573.0 136.0h0M558.7 132.2h0M568.1 140.1h0M591.3 121.0h0M566.6 122.5h0M588.2 124.7h0M568.0 128.5h0M636.5 85.8h0M624.4 84.9h0M636.8 96.4h0M627.8 103.4h0M628.0 85.2h0M633.6 87.5h0M622.2 106.1h0M634.6 76.1h0M629.2 80.6h0M635.4 78.7h0M633.0 98.1h0M629.8 78.0h0M632.4 101.2h0M642.8 77.2h0M626.3 99.9h0M636.0 86.6h0M631.0 80.5h0M634.5 83.4h0M630.3 90.8h0M639.7 84.8h0M627.4 97.9h0M629.9 88.7h0M635.2 85.6h0M628.1 108.2h0M636.1 96.3h0M629.6 78.9h0M633.0 96.6h0M636.8 88.5h0M626.9 80.3h0M621.9 96.1h0M634.6 74.1h0M628.8 75.4h0M632.4 96.0h0M629.8 90.9h0M630.1 96.2h0M629.4 80.8h0M624.3 104.7h0M634.6 95.6h0M634.6 86.4h0M631.5 77.3h0M624.5 92.5h0M616.5 95.3h0M624.0 110.7h0M632.8 86.3h0M623.0 108.0h0M632.0 73.1h0M616.1 94.5h0M635.5 92.9h0M633.6 99.1h0M634.7 71.1h0M628.1 98.2h0M646.6 84.1h0M631.7 90.3h0M636.4 93.6h0M641.9 76.9h0M625.8 100.8h0M639.9 89.8h0M619.7 92.7h0M631.0 94.7h0M631.9 82.6h0" stroke="#1f77b4" stroke-width="4.30" stroke-linecap="round" fill="none"/>
<line x1="380.3" y1="245.3" x2="669.8" y2="27.2" stroke="#ff7f0e" stroke-width="0.9"/>
<rect x="366.4" y="9.5" width="318.0" height="247.1" fill="none" stroke="#585858" stroke-width="1.05"/>
<path d="M379.2 256.6v1.8M449.1 256.6v1.8M519.0 256.6v1.8M589.0 256.6v1.8M658.9 256.6v1.8M366.4 246.6h-1.8M366.4 194.0h-1.8M366.4 141.4h-1.8M366.4 88.9h-1.8M366.4 36.3h-1.8" stroke="#4a4a4a" stroke-width="0.7" fill="none"/>
<g filter="url(#nf)"><text class="t" x="378.7" y="265.4" text-anchor="middle" textLength="12.9" lengthAdjust="spacingAndGlyphs">−0.5</text><text class="t" x="448.6" y="265.4" text-anchor="middle" textLength="8.3" lengthAdjust="spacingAndGlyphs">0.0</text><text class="t" x="518.5" y="265.4" text-anchor="middle" textLength="8.3" lengthAdjust="spacingAndGlyphs">0.5</text><text class="t" x="588.5" y="265.4" text-anchor="middle" textLength="8.3" lengthAdjust="spacingAndGlyphs">1.0</text><text class="t" x="658.4" y="265.4" text-anchor="middle" textLength="8.3" lengthAdjust="spacingAndGlyphs">1.5</text><text class="t" x="361.7" y="248.9" text-anchor="end" textLength="12.9" lengthAdjust="spacingAndGlyphs">−0.5</text><text class="t" x="361.7" y="196.3" text-anchor="end" textLength="8.3" lengthAdjust="spacingAndGlyphs">0.0</text><text class="t" x="361.7" y="143.8" text-anchor="end" textLength="8.3" lengthAdjust="spacingAndGlyphs">0.5</text><text class="t" x="361.7" y="91.2" text-anchor="end" textLength="8.3" lengthAdjust="spacingAndGlyphs">1.0</text><text class="t" x="361.7" y="38.6" text-anchor="end" textLength="8.3" lengthAdjust="spacingAndGlyphs">1.5</text></g>
<text class="c" x="457.3" y="298.0" textLength="120.0" lengthAdjust="spacing">(b) 2000-2005</text>
</g>
<g>
<path d="M29.0 371.5h0M56.0 372.1h0M49.2 384.9h0M99.4 357.9h0M46.8 446.4h0M30.6 457.4h0M65.2 414.9h0M64.7 429.3h0M65.8 436.2h0M69.4 435.6h0M80.7 400.4h0M86.3 417.8h0M82.3 425.4h0M85.5 424.9h0M78.9 429.9h0M82.8 429.9h0M80.2 442.5h0M82.3 441.4h0M88.1 446.1h0M92.3 455.1h0M92.3 459.0h0M99.4 455.3h0M73.4 476.9h0M92.6 398.3h0M91.0 404.6h0M97.3 403.6h0M98.1 407.3h0M101.0 390.4h0M109.1 406.7h0M107.5 412.8h0M115.4 405.2h0M116.7 393.3h0M120.9 391.5h0M104.1 426.2h0M106.0 431.4h0M103.3 436.7h0M100.4 440.6h0M116.7 438.3h0M119.1 445.9h0M121.7 454.0h0M114.1 468.7h0M121.7 421.7h0M127.5 415.9h0M128.6 409.4h0M129.6 408.8h0M135.1 409.6h0M127.2 422.5h0M130.9 423.6h0M132.2 425.1h0M127.0 440.6h0M133.5 441.7h0M133.5 449.0h0M146.4 398.9h0M158.8 379.9h0M154.8 412.3h0M163.5 409.4h0M148.5 417.2h0M150.1 426.7h0M156.7 425.1h0M148.8 434.6h0M151.4 444.0h0M146.4 447.7h0M179.5 395.2h0M184.8 399.4h0M168.5 422.8h0M174.3 425.1h0M167.2 432.5h0M169.8 439.3h0M186.9 418.6h0M185.6 426.4h0M188.2 427.0h0M186.9 432.0h0M192.7 425.7h0M160.1 451.9h0M159.3 455.6h0M167.7 450.4h0M170.3 449.0h0M174.3 448.3h0M178.2 450.9h0M184.3 453.5h0M145.4 466.9h0M151.9 465.9h0M135.1 477.7h0M162.5 472.2h0M170.3 465.6h0M176.1 460.9h0M180.8 463.5h0M174.3 468.7h0M176.9 468.2h0M171.1 473.0h0M182.2 472.7h0M184.8 474.0h0M187.4 462.2h0M186.1 468.7h0M188.5 441.7h0M181.2 480.4h0M184.7 483.8h0M197.3 483.3h0M201.7 479.1h0M214.6 469.9h0M219.9 472.5h0M254.3 463.4h0M262.4 447.3h0M231.2 462.6h0M122.1 479.8h0M186.0 475.2h0M192.5 468.1h0M199.6 469.9h0M271.7 347.1h0M317.9 348.7h0M266.9 357.1h0M263.0 359.4h0M274.3 361.5h0M274.8 364.9h0M292.7 362.1h0M300.0 362.8h0M302.7 364.2h0M311.9 366.3h0M316.3 376.8h0M321.3 377.8h0M309.0 379.1h0M259.3 367.3h0M265.1 370.7h0M255.1 373.4h0M246.7 376.0h0M251.2 379.9h0M259.1 376.8h0M234.4 379.9h0M237.5 382.5h0M224.9 385.2h0M215.7 389.1h0M213.3 398.8h0M202.0 406.2h0M204.1 408.3h0M202.0 414.1h0M294.8 372.6h0M295.8 377.3h0M296.6 379.9h0M298.5 385.2h0M299.3 389.9h0M292.2 390.4h0M287.4 400.9h0M283.5 401.7h0M281.4 408.8h0M282.2 414.1h0M288.7 418.0h0M286.1 424.6h0M279.5 423.3h0M275.6 427.2h0M269.0 429.3h0M262.5 447.4h0M254.1 463.2h0M257.2 435.1h0M255.1 437.7h0M281.6 386.0h0M241.9 440.7h0M233.2 428.2h0M237.7 428.4h0M238.6 426.0h0M208.9 429.3h0M260.3 384.7h0M240.8 423.6h0M226.9 446.9h0M262.7 417.5h0M211.9 440.6h0M274.5 393.2h0M215.7 444.3h0M254.3 411.6h0M221.6 434.4h0M257.1 383.6h0M210.5 446.7h0M218.0 446.5h0M266.0 403.4h0M201.6 437.1h0M231.3 446.4h0M225.7 436.1h0M219.2 432.9h0M187.0 458.1h0M263.4 393.1h0M265.6 388.3h0M274.5 409.7h0M259.5 428.9h0M225.5 452.3h0M264.2 386.7h0M235.0 400.9h0M223.9 428.2h0M243.2 430.1h0M249.9 388.9h0M215.6 424.6h0M236.0 400.3h0M251.0 403.6h0M254.7 406.3h0M207.0 424.4h0M207.5 438.1h0M254.0 420.0h0M243.1 402.9h0M239.1 430.7h0M225.8 435.1h0M217.2 430.0h0M226.2 429.9h0M255.6 419.2h0M232.6 397.8h0M260.1 421.5h0M237.8 413.8h0M268.6 398.2h0M227.2 436.7h0M254.8 405.5h0M227.6 429.9h0M229.9 417.2h0M223.5 424.4h0M259.6 400.1h0M220.1 416.2h0M223.8 424.9h0M222.0 452.6h0M244.9 412.4h0M237.8 417.3h0M224.5 438.7h0M235.7 398.8h0M258.8 413.0h0M252.8 416.5h0M228.9 416.2h0M227.4 448.2h0M218.4 432.7h0M242.7 402.3h0M222.9 421.8h0M249.6 414.6h0M259.2 400.3h0M219.5 419.9h0M211.1 438.0h0M239.7 414.2h0M222.7 431.3h0M236.4 409.5h0M221.0 431.1h0M233.5 439.4h0M204.8 425.7h0M214.6 431.8h0M259.9 413.8h0M229.6 432.9h0M236.6 441.3h0M210.7 440.6h0M264.0 395.4h0M280.2 383.8h0M227.7 429.0h0M192.1 463.2h0M215.8 432.2h0M254.8 416.1h0M225.9 447.6h0M236.7 418.4h0M250.1 422.0h0M286.3 373.6h0M237.4 427.4h0M232.1 422.7h0M239.2 413.9h0M257.7 390.7h0M266.5 402.8h0M248.8 418.1h0M225.9 405.4h0M228.9 402.4h0M231.5 421.9h0M265.2 402.0h0M248.9 416.2h0M228.5 429.0h0M224.4 409.8h0M235.7 401.1h0M252.8 414.2h0M265.3 394.4h0M233.2 418.5h0M246.7 420.1h0M242.8 433.1h0M235.0 392.6h0M264.7 394.8h0M265.5 379.1h0M253.6 384.8h0M264.7 400.6h0M226.3 425.2h0M218.3 435.7h0M224.7 437.5h0M238.4 404.2h0M234.1 412.4h0M247.9 394.1h0M206.4 432.5h0M242.5 431.7h0M264.6 413.4h0M277.6 387.7h0M256.0 407.5h0M260.9 428.0h0M241.4 426.0h0M246.3 415.6h0M254.1 420.0h0M234.8 422.9h0M246.4 399.5h0M284.1 404.3h0M225.2 442.1h0M213.6 457.0h0M248.2 427.9h0M274.9 384.7h0M215.5 448.3h0M225.3 412.0h0M219.8 451.1h0M238.5 415.7h0M224.3 410.0h0M245.3 410.1h0M219.6 433.4h0M236.0 449.7h0M246.4 436.9h0M239.0 437.9h0M287.0 383.7h0M259.8 394.7h0M231.9 413.7h0M241.8 408.4h0M261.6 423.0h0M246.4 390.9h0M226.3 453.2h0M234.2 428.8h0M249.5 423.8h0M241.8 445.1h0M259.7 386.6h0M270.1 417.5h0M246.3 415.8h0M216.3 430.9h0M242.9 405.8h0M242.6 414.6h0M194.1 464.3h0M228.5 423.3h0M239.5 401.2h0M219.3 436.1h0M245.6 418.3h0M251.3 418.6h0M272.9 401.0h0M265.8 402.3h0M274.6 413.1h0M251.8 416.6h0M245.1 401.3h0M213.0 453.5h0M216.3 432.1h0M195.5 448.0h0M209.5 453.7h0M231.0 420.6h0M225.0 435.3h0M238.7 423.5h0M241.7 404.7h0M287.6 379.1h0M241.5 430.0h0M241.7 408.6h0M269.3 410.3h0M245.2 405.8h0M283.3 387.1h0M227.0 436.4h0M231.3 433.1h0M259.0 393.4h0M256.6 393.5h0M229.0 422.0h0M230.6 425.0h0M268.4 400.5h0M196.0 451.9h0M223.0 449.1h0M221.1 420.2h0M279.0 399.0h0M263.1 389.3h0M212.5 438.2h0M238.6 418.1h0M202.3 448.8h0M264.4 387.4h0M282.6 394.8h0M283.5 381.9h0M207.8 431.6h0M231.4 418.7h0M237.3 406.3h0M245.7 418.9h0M262.3 401.1h0M230.0 410.4h0M230.1 433.7h0M227.0 445.9h0M226.7 405.4h0M218.4 433.7h0M213.7 444.4h0M275.2 384.6h0M225.4 429.0h0M220.3 442.1h0M218.2 444.8h0M247.3 407.0h0M251.1 413.9h0M207.8 441.7h0M218.0 423.3h0M252.7 401.6h0M231.5 447.1h0M262.1 389.4h0M204.9 441.1h0M267.6 413.8h0M281.1 395.9h0M214.5 419.6h0M246.6 422.8h0M260.3 429.5h0M282.2 400.9h0M246.4 419.8h0M249.9 401.8h0M220.4 422.8h0M232.8 432.5h0M234.4 435.3h0M221.0 420.4h0M236.1 407.9h0M249.8 425.2h0M195.2 457.7h0M245.8 415.2h0M220.2 420.2h0M198.8 462.3h0M242.6 390.7h0M249.4 425.2h0M253.5 401.8h0M261.6 409.7h0M220.9 430.6h0M249.4 393.4h0M288.6 395.5h0M227.4 428.5h0M233.8 417.5h0M251.0 408.7h0M271.2 400.2h0M215.0 455.1h0M215.6 448.4h0M195.5 441.0h0M244.0 421.7h0M218.8 452.8h0M218.1 411.4h0M187.9 452.5h0M257.1 406.1h0M232.2 415.1h0M213.8 430.0h0M273.2 409.7h0M220.5 430.7h0M262.8 387.5h0M255.6 416.9h0M213.5 434.0h0M249.0 426.6h0M241.1 414.5h0M264.1 415.1h0M252.7 425.0h0M229.7 427.1h0M245.6 409.4h0M263.3 420.2h0M257.6 422.6h0M277.8 376.2h0M251.4 421.4h0M278.7 390.0h0M242.2 410.7h0M199.5 441.2h0M263.0 399.6h0M243.1 428.8h0M254.7 406.9h0M239.9 426.2h0M259.7 390.8h0M248.8 402.4h0M270.7 379.2h0M244.9 418.5h0M229.9 425.8h0M252.6 399.3h0M229.7 424.4h0M216.3 419.7h0M230.5 421.3h0M222.8 434.4h0M223.6 409.4h0M248.1 415.8h0M217.5 441.8h0M253.0 390.2h0M206.1 453.2h0M235.5 429.9h0M200.8 445.3h0M257.3 426.9h0M244.6 404.4h0M262.6 409.2h0M293.7 376.4h0M220.7 420.2h0M213.4 426.2h0M210.1 429.7h0M226.0 414.8h0M257.0 402.3h0M241.0 405.3h0M197.4 442.6h0M249.3 406.1h0M242.4 407.8h0M243.2 397.9h0M223.6 457.9h0M214.4 438.6h0M244.2 417.0h0M258.8 407.0h0M238.2 446.6h0M251.1 399.5h0M229.8 449.0h0M208.3 420.1h0M225.5 437.1h0M220.5 424.0h0M225.9 439.3h0M204.4 444.5h0M263.1 405.5h0M260.3 403.4h0M243.1 415.0h0M240.5 406.4h0M251.1 418.9h0M242.7 418.4h0M251.0 409.6h0M249.4 431.0h0M248.6 397.4h0M208.0 421.2h0M246.6 417.3h0M197.4 434.6h0M216.9 441.0h0M252.5 423.4h0M216.5 449.1h0M237.1 414.0h0M249.1 408.1h0M231.6 423.2h0M223.5 405.9h0M244.2 440.3h0M214.6 416.7h0M207.6 446.3h0M249.1 426.5h0M264.7 382.2h0M220.3 418.7h0M218.8 445.7h0M245.4 412.7h0M225.7 418.6h0M205.2 453.0h0M214.4 427.2h0M258.5 398.7h0M209.3 438.2h0M250.4 432.0h0M220.4 424.5h0M256.1 405.3h0M252.4 407.0h0M243.2 418.4h0M219.2 436.2h0M230.2 397.5h0M245.8 415.5h0M234.2 424.5h0M233.3 417.1h0M239.0 410.0h0M223.4 426.1h0M260.2 419.8h0M243.6 413.8h0M231.8 430.7h0M196.2 434.6h0M217.8 449.3h0M255.1 431.5h0M262.2 399.0h0M253.7 412.1h0M211.1 461.7h0M273.8 402.3h0M227.6 408.3h0M224.9 432.3h0M234.1 424.9h0M215.3 442.7h0M269.8 389.9h0M247.5 415.6h0M230.9 412.6h0M197.9 432.9h0M242.7 410.7h0M245.6 405.1h0M233.8 430.0h0M258.0 405.0h0M210.3 422.7h0M268.0 382.8h0M241.5 413.9h0M230.7 437.4h0M241.2 416.3h0M224.1 407.5h0M201.8 454.9h0M223.9 414.3h0M233.6 427.5h0M218.9 442.7h0M209.1 427.6h0M253.9 397.8h0M216.7 460.0h0M232.8 422.4h0M257.4 420.0h0M253.5 389.3h0M219.7 441.9h0M199.8 443.3h0M259.7 396.6h0M259.2 389.0h0M242.6 405.8h0M217.4 444.1h0M245.3 425.7h0M253.1 393.7h0M249.1 422.1h0M222.1 414.6h0M221.0 430.9h0M233.6 422.9h0M265.3 408.8h0M206.6 423.9h0M244.9 407.1h0M239.2 410.3h0M269.3 382.9h0M233.3 428.1h0M248.9 410.7h0M252.9 419.2h0M185.2 450.6h0M258.0 399.3h0M278.5 382.9h0M230.6 413.5h0M237.7 405.5h0M245.2 410.2h0M245.0 415.2h0M204.6 442.3h0M186.4 449.2h0M262.9 378.8h0M248.4 422.3h0M206.2 431.0h0M185.6 456.4h0M255.7 404.7h0M238.7 430.2h0M218.4 421.4h0M249.9 414.6h0M244.5 427.5h0M263.6 388.0h0M221.4 430.5h0M264.2 410.8h0M233.1 411.9h0M278.6 408.5h0M254.2 411.5h0M234.6 414.2h0M228.5 444.1h0M206.3 442.1h0M254.4 409.9h0M236.1 422.2h0M269.9 392.7h0M222.2 434.7h0M267.9 407.6h0M230.4 426.0h0M214.7 425.2h0M229.5 441.7h0M246.3 435.9h0M252.3 401.6h0M226.2 433.3h0M261.9 412.7h0M240.2 414.9h0M276.2 401.1h0M240.5 405.1h0M285.5 386.1h0M274.4 399.1h0M252.3 416.2h0M226.8 429.0h0M242.7 398.7h0M235.0 417.9h0M233.6 421.7h0M208.9 426.8h0M227.5 427.2h0M234.6 410.8h0M251.9 411.1h0M243.8 412.5h0M257.4 401.4h0M269.8 379.5h0M254.1 426.0h0M231.1 430.3h0M191.4 442.4h0M216.0 413.0h0M181.6 457.6h0M255.5 413.8h0M221.0 428.9h0M227.3 432.0h0M238.7 426.9h0M234.3 413.4h0M230.5 423.6h0M222.0 420.2h0M209.5 428.0h0M202.4 432.1h0M246.0 431.3h0M226.2 412.2h0M238.1 413.8h0M204.0 462.0h0M252.7 382.8h0M226.6 421.3h0M217.0 419.7h0M228.4 432.6h0M194.7 455.1h0M243.4 400.5h0M211.4 426.8h0M230.9 429.3h0M216.7 456.1h0M210.4 419.8h0M210.8 444.7h0M264.5 429.1h0M248.9 420.1h0M242.8 407.4h0M234.8 425.8h0M255.4 401.7h0M221.6 434.6h0M206.9 426.3h0M210.0 437.7h0M279.3 383.6h0M231.7 434.3h0M223.8 419.4h0M246.6 415.4h0M227.3 432.7h0M244.0 413.2h0M232.5 415.7h0M251.5 415.6h0M216.4 443.6h0M235.1 438.3h0M219.3 433.1h0M229.9 423.1h0M217.6 438.2h0M212.7 442.1h0M244.3 420.5h0M204.0 446.9h0M241.0 405.8h0M236.6 427.6h0M210.2 416.0h0M215.4 450.6h0M234.1 446.5h0M262.9 402.7h0M249.2 426.0h0M225.9 419.2h0M263.7 427.3h0M240.1 424.5h0M263.7 405.2h0M249.6 417.4h0M252.5 393.7h0M223.9 455.6h0M214.1 418.3h0M243.5 421.1h0M215.8 423.3h0M245.1 417.8h0M225.7 431.4h0M230.9 419.0h0M268.3 424.8h0M204.4 445.0h0M240.3 438.6h0M223.9 435.6h0M228.0 433.6h0M236.4 411.5h0M255.7 402.1h0M244.8 425.4h0M227.1 420.1h0M241.1 409.4h0M244.6 416.0h0M248.7 432.8h0M234.7 430.7h0M258.2 415.9h0M243.8 422.6h0M249.5 404.8h0M233.4 423.2h0M242.3 409.0h0M230.5 425.9h0M228.1 439.8h0M242.2 413.4h0M219.0 415.0h0M220.4 424.2h0M246.7 436.5h0M237.3 441.2h0M235.4 415.0h0M281.2 382.9h0M202.1 450.0h0M273.0 395.8h0M279.3 402.7h0M224.7 447.0h0M228.8 412.4h0M216.0 426.1h0M248.5 404.8h0M231.7 425.5h0M287.9 403.3h0M255.6 391.2h0M248.6 394.2h0M210.2 445.4h0M235.1 417.8h0M217.5 424.8h0M200.6 435.1h0M231.5 447.8h0M213.8 436.7h0M268.1 392.1h0M229.9 445.0h0M232.7 434.1h0M244.0 395.4h0M226.9 439.2h0M196.2 465.4h0M245.7 407.6h0M233.4 398.6h0M231.6 426.5h0M229.3 412.9h0M237.0 427.6h0M276.6 380.2h0M260.8 422.2h0M212.0 442.3h0M231.2 431.6h0M232.2 417.6h0M213.8 434.9h0M228.4 433.9h0M231.2 417.0h0M244.6 426.6h0M246.0 414.3h0M248.1 417.7h0M262.1 400.2h0M211.8 454.4h0M205.7 437.7h0M222.7 435.5h0M237.5 406.1h0M290.7 386.8h0M286.3 381.5h0M267.8 404.1h0M210.3 433.4h0M269.9 418.4h0M238.1 417.9h0M253.6 423.5h0M226.4 417.0h0M282.1 389.8h0M262.6 402.0h0M249.7 417.5h0M234.2 430.2h0M241.9 404.5h0M244.0 408.5h0M224.5 420.9h0M231.6 447.3h0M252.8 408.2h0M217.9 433.0h0M203.9 454.7h0M230.4 445.5h0M264.1 411.2h0M263.6 405.3h0M246.8 425.9h0M232.3 429.7h0M245.1 399.0h0M226.3 430.5h0M248.0 403.4h0M237.0 426.0h0M225.9 428.7h0M245.3 424.1h0M232.4 415.1h0M239.0 426.9h0M256.3 399.6h0M254.0 401.7h0M230.4 423.2h0M247.0 413.0h0M198.4 447.4h0M247.9 407.9h0M232.7 423.8h0M197.3 466.2h0M277.8 372.5h0M213.2 429.3h0M269.2 403.3h0M193.6 433.0h0M231.3 429.9h0M279.8 386.7h0M259.5 386.5h0M236.3 433.6h0M258.4 406.7h0M257.5 402.3h0M222.4 430.4h0M232.5 426.8h0M239.5 414.9h0M245.4 430.7h0M255.4 425.9h0M292.6 392.7h0M239.3 402.8h0M236.0 436.9h0M207.1 437.3h0M250.4 401.6h0M247.1 419.8h0M251.8 393.1h0M230.9 409.5h0M285.0 377.3h0M247.8 404.6h0M251.5 416.0h0M224.4 427.8h0M244.8 409.5h0M226.8 413.9h0M191.3 463.5h0M211.7 436.8h0M228.3 420.4h0M221.5 415.8h0M257.2 413.9h0M200.0 460.6h0M203.3 428.7h0M257.4 423.1h0M283.9 393.4h0M270.3 398.8h0M218.6 418.5h0M227.8 427.6h0M250.7 408.3h0M228.9 439.4h0M257.4 434.6h0M247.5 410.9h0M252.1 415.6h0M244.9 406.2h0M215.2 435.2h0M248.7 428.8h0M217.5 415.0h0M264.1 412.1h0M256.7 403.0h0M272.7 383.2h0M182.8 461.3h0M272.1 377.6h0M225.3 444.1h0M245.8 423.2h0M239.4 433.9h0M257.7 400.3h0M250.5 425.5h0M200.5 464.9h0M186.7 460.6h0M201.7 448.5h0M202.5 433.1h0M203.1 446.6h0M201.6 456.3h0M204.0 441.0h0M193.4 446.3h0M192.8 450.7h0M221.7 438.1h0M180.9 454.7h0M196.9 454.2h0M190.2 452.8h0M213.5 451.1h0M188.2 465.7h0M223.9 445.2h0M195.8 446.0h0M195.3 456.4h0M191.1 451.4h0M204.2 437.7h0M202.5 455.7h0M190.7 450.4h0M194.6 454.3h0M196.4 439.6h0M191.7 468.3h0M203.9 453.1h0M198.7 445.3h0M211.1 443.4h0M224.5 449.1h0M216.1 451.3h0M196.7 447.8h0M214.8 447.4h0M191.4 445.6h0M204.9 445.5h0M208.5 461.5h0M207.4 448.0h0M200.8 443.6h0M214.8 450.0h0M222.2 453.1h0M221.0 453.7h0M211.0 439.5h0M197.1 445.2h0M193.9 457.4h0M206.8 447.4h0M210.2 442.0h0M205.9 449.2h0M204.2 447.0h0M197.5 437.0h0M207.7 456.5h0M195.4 445.3h0M208.4 453.9h0M193.7 461.2h0M208.8 451.3h0M185.4 452.3h0M221.4 437.7h0M193.3 445.5h0M207.7 437.2h0M211.9 442.2h0M191.4 458.8h0M198.0 464.6h0M219.2 442.0h0M182.2 449.4h0M193.5 447.4h0M196.5 462.5h0M190.1 469.2h0M194.9 468.9h0M208.7 456.6h0M200.2 448.9h0M193.0 450.3h0M208.1 452.5h0M188.8 444.7h0M210.7 448.6h0M202.3 442.8h0M218.8 444.1h0M204.8 443.6h0M190.0 456.3h0M210.9 449.1h0M204.8 443.3h0M211.1 437.1h0M204.2 451.2h0M201.2 450.0h0M215.7 455.9h0M213.0 448.5h0M200.3 467.4h0M192.9 444.8h0M196.9 439.3h0M192.6 466.2h0M206.6 458.8h0M209.1 439.6h0M209.1 448.5h0M192.4 449.6h0M209.5 450.7h0M202.0 456.1h0M206.4 448.8h0M201.6 447.0h0M211.1 444.5h0M204.8 451.7h0M214.1 446.1h0M217.0 440.6h0M224.1 443.2h0M203.9 445.6h0M209.0 448.0h0M206.0 442.9h0M205.4 460.7h0M194.9 439.2h0M197.3 453.0h0M201.2 453.2h0M204.4 440.2h0M205.1 453.0h0M205.5 444.2h0M190.1 451.8h0M220.9 436.2h0M218.2 439.0h0M209.8 444.8h0M208.3 446.8h0M219.2 448.2h0M224.4 448.6h0M190.3 457.0h0M207.0 450.9h0M207.9 451.5h0M198.0 454.2h0M192.6 459.4h0M200.1 467.2h0M201.3 447.0h0M205.2 439.8h0M207.8 452.6h0M208.4 440.1h0M222.0 444.6h0M214.4 445.0h0M195.7 462.1h0M273.7 412.5h0M258.3 417.6h0M268.6 418.4h0M274.1 400.7h0M275.7 403.5h0M278.0 408.9h0M265.6 414.0h0M269.6 397.1h0M259.4 415.8h0M272.1 416.9h0M271.6 399.9h0M270.0 399.5h0M264.9 413.5h0M279.8 411.9h0M261.3 408.7h0M272.1 398.7h0M261.9 411.4h0M279.5 402.1h0M276.4 409.9h0M273.4 411.9h0M267.1 404.8h0M260.5 414.1h0M273.4 406.1h0M259.1 406.5h0M283.6 403.9h0M269.4 409.0h0M260.2 410.0h0M275.7 406.5h0M276.3 410.4h0M256.7 417.3h0M278.7 406.6h0M266.5 409.4h0M285.2 402.2h0M270.9 399.4h0M270.5 404.4h0M270.4 406.5h0M269.8 412.6h0M271.1 414.0h0M266.0 416.4h0M271.0 409.1h0M273.4 405.1h0M276.7 403.1h0M270.0 400.9h0M269.3 418.1h0M284.3 394.9h0M268.9 400.8h0M271.4 411.9h0M261.1 407.8h0M264.3 410.8h0M260.0 413.3h0M259.0 412.3h0M271.5 408.0h0M263.7 406.7h0M273.6 414.1h0M254.7 416.2h0M267.9 408.2h0M279.5 400.6h0M268.8 415.8h0M270.8 414.2h0M266.5 403.4h0" stroke="#1f77b4" stroke-width="4.30" stroke-linecap="round" fill="none"/>
<line x1="28.6" y1="566.3" x2="321.3" y2="338.0" stroke="#ff7f0e" stroke-width="0.9"/>
<rect x="14.4" y="327.5" width="321.5" height="250.8" fill="none" stroke="#585858" stroke-width="1.05"/>
<path d="M79.2 578.3v1.8M150.2 578.3v1.8M221.2 578.3v1.8M292.2 578.3v1.8M14.4 527.4h-1.8M14.4 472.0h-1.8M14.4 416.7h-1.8M14.4 361.3h-1.8" stroke="#4a4a4a" stroke-width="0.7" fill="none"/>
<g filter="url(#nf)"><text class="t" x="78.7" y="587.1" text-anchor="middle" textLength="8.3" lengthAdjust="spacingAndGlyphs">0.0</text><text class="t" x="149.7" y="587.1" text-anchor="middle" textLength="8.3" lengthAdjust="spacingAndGlyphs">0.5</text><text class="t" x="220.7" y="587.1" text-anchor="middle" textLength="8.3" lengthAdjust="spacingAndGlyphs">1.0</text><text class="t" x="291.7" y="587.1" text-anchor="middle" textLength="8.3" lengthAdjust="spacingAndGlyphs">1.5</text><text class="t" x="9.7" y="529.7" text-anchor="end" textLength="8.3" lengthAdjust="spacingAndGlyphs">0.0</text><text class="t" x="9.7" y="474.3" text-anchor="end" textLength="8.3" lengthAdjust="spacingAndGlyphs">0.5</text><text class="t" x="9.7" y="419.0" text-anchor="end" textLength="8.3" lengthAdjust="spacingAndGlyphs">1.0</text><text class="t" x="9.7" y="363.6" text-anchor="end" textLength="8.3" lengthAdjust="spacingAndGlyphs">1.5</text></g>
<text class="c" x="111.6" y="620.4" textLength="116.8" lengthAdjust="spacing">(c) 2002-2007</text>
</g>
<g>
<path d="M528.7 359.7h0M494.3 367.0h0M514.2 368.3h0M476.9 382.3h0M488.0 387.0h0M508.5 386.7h0M522.4 383.8h0M535.5 380.2h0M496.4 393.0h0M512.4 393.0h0M531.8 389.6h0M538.7 391.7h0M520.8 398.0h0M524.2 398.3h0M528.2 400.7h0M519.0 404.3h0M524.2 405.6h0M487.2 404.3h0M488.2 406.7h0M500.0 410.1h0M506.3 412.0h0M468.5 415.4h0M475.9 413.0h0M461.9 430.3h0M473.0 428.2h0M519.5 413.5h0M514.5 416.2h0M499.3 417.5h0M498.5 421.4h0M495.3 423.3h0M505.8 420.1h0M511.9 418.8h0M455.1 446.9h0M459.1 444.5h0M668.4 330.0h0M659.8 345.5h0M665.0 374.1h0M639.8 348.4h0M632.7 360.2h0M639.0 374.4h0M626.6 372.8h0M618.0 353.6h0M611.4 346.5h0M618.8 363.9h0M608.8 372.8h0M617.2 388.6h0M641.9 395.4h0M632.2 397.5h0M630.3 400.9h0M620.1 400.7h0M625.6 408.3h0M611.1 410.4h0M614.0 410.4h0M618.8 415.1h0M610.1 428.0h0M603.8 437.7h0M556.8 351.8h0M588.0 360.2h0M592.5 360.2h0M593.0 362.3h0M593.0 366.2h0M592.2 371.5h0M591.7 374.1h0M589.1 378.6h0M600.9 379.9h0M599.6 383.3h0M597.7 385.9h0M596.4 389.9h0M551.0 370.2h0M554.4 371.5h0M552.3 374.9h0M559.7 371.5h0M561.5 376.0h0M558.9 379.9h0M562.8 379.9h0M549.7 385.4h0M539.9 392.0h0M545.7 394.6h0M575.2 383.8h0M577.3 387.3h0M578.6 389.4h0M576.0 392.5h0M577.3 396.4h0M582.0 393.8h0M582.5 396.4h0M562.8 391.2h0M568.8 393.3h0M598.3 403.5h0M594.3 405.6h0M590.4 410.1h0M581.2 403.0h0M580.7 408.3h0M584.6 408.3h0M581.2 413.5h0M583.8 411.7h0M586.5 414.8h0M589.1 416.9h0M591.7 416.9h0M594.3 416.9h0M585.1 420.1h0M583.8 425.4h0M595.1 436.7h0M591.7 439.0h0M593.0 442.4h0M581.7 445.8h0M595.9 451.9h0M589.6 452.9h0M376.6 526.7h0M386.0 546.1h0M386.0 553.8h0M396.5 543.0h0M403.9 552.4h0M403.9 536.1h0M393.6 526.2h0M398.9 517.5h0M392.6 505.1h0M436.7 548.2h0M466.4 545.1h0M408.1 525.1h0M415.2 533.3h0M424.4 533.8h0M427.8 529.8h0M431.5 531.2h0M444.6 527.5h0M455.1 530.4h0M412.5 521.2h0M415.2 519.3h0M420.4 522.0h0M418.3 514.6h0M421.7 513.3h0M413.9 511.5h0M415.7 508.8h0M410.4 506.2h0M406.0 501.5h0M412.5 496.2h0M408.9 493.1h0M406.2 487.0h0M417.3 486.5h0M421.0 488.3h0M426.5 486.5h0M430.9 486.5h0M424.9 476.2h0M428.3 472.0h0M434.9 467.3h0M445.9 465.5h0M426.5 492.3h0M423.1 499.9h0M427.0 508.3h0M429.6 504.9h0M430.9 500.4h0M433.6 495.7h0M436.2 491.7h0M434.4 508.8h0M438.8 508.8h0M427.0 516.7h0M430.9 515.4h0M434.4 520.6h0M436.2 523.3h0M438.8 520.6h0M440.9 518.0h0M443.6 515.4h0M446.7 521.4h0M465.1 522.0h0M477.4 519.9h0M484.8 513.6h0M490.6 515.4h0M496.6 502.3h0M498.5 504.1h0M511.9 500.9h0M509.8 497.5h0M520.3 491.0h0M517.1 493.1h0M529.5 491.0h0M454.6 446.6h0M458.5 445.0h0M461.2 448.4h0M463.3 452.3h0M455.9 457.1h0M459.8 462.8h0M463.8 456.3h0M474.8 442.3h0M477.4 446.3h0M461.7 431.3h0M481.4 440.5h0M483.0 435.8h0M470.4 451.0h0M471.7 456.3h0M451.4 470.7h0M448.0 472.0h0M443.6 476.5h0M441.5 479.9h0M568.8 455.5h0M567.3 462.8h0M568.8 466.0h0M568.8 477.3h0M559.7 469.4h0M560.2 476.0h0M556.8 479.9h0M546.3 489.6h0M543.9 481.2h0M541.8 486.5h0M530.0 491.0h0M520.2 491.7h0M516.8 493.8h0M509.5 497.5h0M512.1 501.5h0M538.4 478.1h0M540.5 478.6h0M530.0 476.8h0M531.3 482.5h0M522.9 482.5h0M526.0 484.4h0M510.8 483.9h0M514.2 485.2h0M581.7 447.1h0M580.4 449.2h0M509.6 453.1h0M463.6 475.6h0M489.0 503.8h0M478.9 468.6h0M522.0 476.9h0M534.7 449.9h0M526.1 446.8h0M456.5 486.0h0M480.7 449.9h0M539.3 444.8h0M464.1 487.2h0M514.5 482.3h0M605.3 400.8h0M581.9 442.3h0M579.5 448.3h0M478.7 469.8h0M458.7 475.6h0M599.4 394.4h0M495.2 455.7h0M457.0 482.7h0M448.1 497.5h0M501.7 451.9h0M494.1 448.7h0M498.7 452.9h0M542.1 478.5h0M509.1 462.1h0M473.1 479.8h0M443.3 489.6h0M529.9 445.3h0M510.4 475.7h0M520.5 474.3h0M563.4 444.1h0M514.4 422.5h0M558.7 430.1h0M568.2 430.2h0M542.4 443.5h0M467.5 478.2h0M548.6 446.8h0M459.1 501.0h0M460.1 452.7h0M482.5 506.7h0M545.8 445.2h0M509.6 458.9h0M516.6 465.5h0M549.5 430.0h0M485.6 479.3h0M465.8 482.0h0M539.9 433.1h0M534.5 450.7h0M577.0 428.1h0M508.7 469.2h0M511.0 466.2h0M596.9 405.0h0M433.3 513.8h0M445.0 482.6h0M568.0 437.8h0M534.4 452.3h0M525.4 421.1h0M492.0 495.5h0M539.0 436.1h0M537.1 427.6h0M477.4 517.5h0M553.3 445.3h0M454.2 515.7h0M557.1 432.1h0M520.8 440.2h0M477.6 501.7h0M469.8 505.7h0M494.6 487.6h0M509.1 471.7h0M503.9 453.5h0M569.1 399.6h0M512.5 456.8h0M485.0 457.5h0M574.9 436.6h0M541.1 450.8h0M499.9 464.5h0M489.7 456.9h0M441.5 514.1h0M502.2 486.2h0M523.3 483.1h0M509.8 489.3h0M501.0 457.8h0M578.6 422.0h0M600.6 415.4h0M496.3 494.0h0M517.2 438.4h0M479.5 486.5h0M487.0 481.5h0M481.4 503.7h0M466.6 480.4h0M552.0 442.3h0M494.9 469.8h0M495.9 453.8h0M486.1 494.2h0M486.6 473.7h0M561.6 403.0h0M489.8 501.1h0M489.7 465.2h0M591.9 428.5h0M498.8 479.4h0M459.1 476.1h0M554.3 472.2h0M550.7 443.6h0M515.5 455.4h0M449.9 502.1h0M463.8 452.6h0M603.7 407.5h0M455.5 471.5h0M499.0 435.7h0M490.0 492.2h0M478.2 482.0h0M466.7 464.4h0M536.4 447.9h0M489.8 461.5h0M517.7 463.5h0M474.6 488.7h0M513.3 425.3h0M509.9 470.3h0M453.4 479.8h0M474.3 484.6h0M538.8 444.9h0M490.4 476.6h0M547.0 441.6h0M518.1 449.7h0M492.7 465.9h0M495.2 449.4h0M529.5 483.6h0M498.3 448.1h0M498.0 476.9h0M551.2 459.1h0M510.3 451.0h0M544.9 461.8h0M452.5 466.8h0M473.1 484.8h0M552.0 431.7h0M571.1 427.3h0M495.3 458.7h0M546.4 417.6h0M560.0 443.2h0M503.9 429.4h0M534.2 446.7h0M566.8 403.8h0M564.2 441.7h0M490.5 459.2h0M559.9 456.3h0M487.4 479.3h0M551.8 458.8h0M535.1 433.8h0M499.8 459.1h0M461.2 491.2h0M509.4 481.0h0M552.1 429.8h0M425.8 495.0h0M467.0 475.6h0M472.5 490.1h0M526.2 416.5h0M441.3 507.5h0M492.8 451.3h0M497.0 461.6h0M566.5 415.7h0M489.5 481.8h0M496.1 467.0h0M470.1 485.7h0M533.3 457.6h0M486.8 469.8h0M543.0 468.4h0M464.4 463.8h0M506.7 484.5h0M513.0 430.7h0M480.5 496.8h0M496.7 439.9h0M478.7 470.0h0M551.8 426.9h0M492.5 459.9h0M514.9 444.3h0M524.7 451.2h0M431.2 494.8h0M502.4 505.3h0M505.5 459.2h0M475.6 499.7h0M519.8 446.6h0M532.7 450.3h0M503.1 447.3h0M527.4 460.1h0M520.7 443.2h0M560.3 424.9h0M473.2 492.1h0M517.3 452.2h0M552.4 473.1h0M476.4 502.5h0M555.1 422.1h0M522.4 439.9h0M483.0 467.5h0M510.7 459.9h0M502.6 448.4h0M554.6 463.3h0M485.0 474.6h0M533.0 478.8h0M467.5 491.8h0M584.3 436.0h0M490.7 473.6h0M503.3 463.0h0M506.5 467.6h0M520.1 451.2h0M524.3 446.6h0M456.8 489.0h0M514.4 445.1h0M538.0 417.4h0M473.0 485.4h0M517.3 469.6h0M496.1 476.7h0M504.7 437.6h0M470.7 479.0h0M480.5 472.4h0M543.8 434.1h0M508.7 455.3h0M568.5 458.6h0M495.3 488.0h0M552.6 460.5h0M545.2 463.0h0M461.9 461.1h0M553.2 453.8h0M433.1 522.7h0M534.4 448.3h0M467.7 475.7h0M568.5 449.4h0M505.1 479.3h0M556.3 433.4h0M480.2 509.2h0M538.9 450.6h0M514.4 462.6h0M526.1 484.8h0M472.9 476.6h0M587.4 412.0h0M505.2 476.3h0M479.2 483.3h0M473.9 479.9h0M508.9 425.5h0M504.5 444.4h0M490.2 455.3h0M458.5 471.0h0M511.6 465.4h0M528.7 445.4h0M563.4 423.3h0M484.5 496.3h0M434.2 524.4h0M557.7 461.0h0M511.7 437.7h0M534.9 418.9h0M541.5 414.5h0M484.2 491.4h0M594.5 407.1h0M513.2 470.2h0M579.1 413.3h0M531.0 461.5h0M512.9 467.8h0M504.8 458.5h0M486.8 490.3h0M543.4 461.4h0M570.0 399.1h0M448.2 466.7h0M473.0 458.2h0M483.7 462.3h0M463.2 476.3h0M512.4 430.8h0M541.9 460.0h0M522.9 466.8h0M517.1 428.9h0M577.8 419.9h0M473.7 480.5h0M600.2 412.7h0M445.7 523.6h0M457.2 471.3h0M494.4 484.1h0M524.6 435.2h0M502.6 480.6h0M518.4 441.5h0M436.8 529.1h0M596.2 404.6h0M524.8 479.0h0M466.0 491.4h0M563.7 429.4h0M438.0 473.8h0M578.2 406.7h0M460.7 501.6h0M497.0 466.7h0M587.2 443.0h0M477.4 480.5h0M483.5 486.3h0M443.4 498.9h0M493.8 467.9h0M548.3 445.3h0M502.4 461.4h0M488.1 470.8h0M431.5 522.6h0M530.0 447.0h0M543.5 467.9h0M484.3 478.2h0M503.4 470.1h0M569.4 437.1h0M493.4 462.2h0M528.0 449.5h0M579.8 412.2h0M497.2 487.4h0M560.8 445.0h0M524.3 463.9h0M599.2 398.2h0M430.7 501.9h0M447.1 508.4h0M542.3 468.0h0M521.5 457.2h0M539.9 463.5h0M533.9 455.5h0M551.7 438.0h0M535.5 423.2h0M554.4 437.9h0M537.4 447.0h0M525.1 423.9h0M469.1 507.7h0M527.3 463.3h0M560.0 418.4h0M533.6 449.6h0M486.1 492.6h0M482.3 479.0h0M464.6 469.5h0M533.9 473.4h0M434.1 501.9h0M565.5 413.9h0M570.9 394.9h0M588.4 435.6h0M498.8 480.2h0M509.8 468.9h0M519.0 423.1h0M476.5 467.4h0M465.0 511.7h0M551.7 441.1h0M510.5 435.0h0M449.3 495.2h0M571.5 446.5h0M518.8 439.9h0M548.1 428.0h0M550.2 430.3h0M542.0 436.8h0M468.3 483.7h0M502.8 445.1h0M530.0 441.1h0M516.1 446.3h0M484.1 471.5h0M478.1 486.5h0M534.5 465.7h0M491.8 465.9h0M488.6 460.3h0M527.3 430.9h0M518.2 438.7h0M483.4 490.7h0M458.5 482.4h0M515.0 490.7h0M483.3 477.6h0M455.8 499.6h0M503.3 476.5h0M436.9 482.3h0M518.6 450.8h0M482.6 474.3h0M478.2 482.4h0M513.7 449.1h0M482.2 492.1h0M562.2 458.1h0M516.3 460.5h0M537.6 454.4h0M462.8 486.6h0M448.8 516.3h0M506.5 461.9h0M444.0 476.1h0M505.8 441.6h0M555.7 435.2h0M490.0 499.6h0M551.1 410.2h0M514.9 458.2h0M468.5 504.4h0M503.0 443.5h0M495.9 453.8h0M525.2 455.4h0M471.7 490.6h0M455.9 476.9h0M529.9 468.6h0M478.8 503.9h0M514.9 448.0h0M469.5 492.8h0M524.8 483.9h0M518.7 427.8h0M579.3 424.9h0M506.6 449.7h0M538.0 418.5h0M520.2 449.3h0M524.1 422.0h0M469.6 460.1h0M522.1 448.1h0M476.4 479.9h0M522.9 477.3h0M514.9 481.2h0M496.8 474.9h0M438.0 500.6h0M486.8 517.0h0M591.0 405.1h0M528.2 449.1h0M549.0 446.8h0M543.9 423.3h0M491.2 469.8h0M519.3 481.7h0M528.2 450.9h0M565.5 425.5h0M474.7 477.8h0M489.9 514.8h0M502.4 488.4h0M565.8 423.2h0M548.5 432.5h0M501.9 452.8h0M444.3 483.7h0M504.6 500.4h0M503.1 454.0h0M489.6 447.4h0M565.6 440.6h0M477.4 483.6h0M489.8 459.3h0M557.4 422.1h0M539.9 444.9h0M504.9 476.4h0M536.2 458.2h0M445.0 511.7h0M491.7 478.0h0M537.9 452.3h0M537.9 436.1h0M539.9 446.1h0M544.0 438.9h0M518.6 459.1h0M504.9 459.7h0M539.6 457.3h0M497.4 467.2h0M558.5 433.3h0M538.1 428.1h0M511.7 431.2h0M468.5 509.4h0M461.0 504.1h0M484.8 480.5h0M525.5 461.1h0M486.3 464.0h0M502.0 461.7h0M491.2 495.8h0M506.9 465.4h0M525.2 452.9h0M473.3 455.1h0M455.3 527.3h0M479.9 488.9h0M529.5 461.6h0M507.7 459.1h0M537.4 476.7h0M517.8 480.5h0M555.5 450.6h0M477.2 471.4h0M505.9 466.5h0M537.6 455.8h0M480.6 460.2h0M483.3 474.0h0M454.0 494.5h0M493.4 464.6h0M464.9 493.9h0M513.3 487.3h0M505.2 480.3h0M510.3 479.5h0M472.0 486.9h0M581.4 437.2h0M523.7 471.2h0M501.7 502.3h0M424.0 525.3h0M543.7 427.5h0M498.9 492.3h0M556.3 442.6h0M467.3 493.7h0M496.0 438.4h0M506.3 474.2h0M487.5 504.0h0M561.6 451.0h0M512.4 479.2h0M510.7 420.7h0M586.1 411.4h0M569.4 443.0h0M457.4 470.4h0M478.2 440.5h0M568.8 450.1h0M491.6 479.3h0M541.0 451.7h0M506.1 492.7h0M578.4 406.9h0M510.7 491.7h0M525.5 430.3h0M412.8 523.0h0M497.1 449.3h0M464.1 472.4h0M555.2 434.9h0M499.7 459.7h0M461.9 519.8h0M431.6 504.1h0M493.6 474.7h0M481.2 481.2h0M587.6 424.9h0M465.1 511.5h0M462.8 479.6h0M495.0 479.2h0M495.3 498.8h0M464.7 496.8h0M485.8 472.7h0M543.0 457.5h0M517.6 452.3h0M477.2 472.2h0M546.5 473.4h0M522.2 449.2h0M517.8 487.9h0M548.0 444.7h0M468.3 516.7h0M522.4 459.9h0M443.7 470.7h0M449.8 485.2h0M461.8 494.5h0M533.8 454.6h0M528.8 452.0h0M571.9 414.0h0M528.2 465.6h0M488.9 470.3h0M582.3 393.0h0M515.9 436.7h0M515.3 454.4h0M511.8 466.1h0M497.0 447.1h0M548.9 438.3h0M543.8 450.2h0M516.1 430.5h0M579.5 422.0h0M502.4 490.3h0M542.9 452.9h0M471.9 478.8h0M507.7 489.7h0M560.8 464.4h0M435.8 486.5h0M494.1 503.6h0M552.2 422.0h0M498.0 471.0h0M514.5 444.8h0M500.3 489.1h0M501.7 477.2h0M434.1 515.3h0M459.2 489.8h0M558.3 426.3h0M512.6 478.3h0M544.0 436.7h0M433.8 518.1h0M534.8 457.3h0M524.7 450.2h0M499.2 493.8h0M467.2 450.1h0M547.9 429.6h0M504.7 464.7h0M597.3 432.2h0M564.5 410.4h0M467.3 481.9h0M476.6 480.0h0M547.0 435.3h0M562.8 417.7h0M493.1 481.5h0M546.4 440.0h0M548.8 452.1h0M558.2 443.0h0M501.7 461.0h0M518.3 464.7h0M467.3 498.1h0M506.7 453.2h0M442.9 508.5h0M589.5 410.6h0M509.6 469.1h0M498.7 465.3h0M570.8 401.7h0M484.9 492.3h0M530.7 460.6h0M552.1 416.8h0M475.7 520.9h0M447.1 499.7h0M455.2 487.4h0M516.6 457.7h0M500.6 480.8h0M533.6 485.1h0M564.5 431.1h0M494.8 463.5h0M501.3 436.1h0M482.4 481.3h0M454.9 482.6h0M437.3 488.1h0M531.4 474.1h0M525.2 458.5h0M483.1 502.6h0M435.4 531.9h0M432.9 505.4h0M523.2 433.4h0M476.7 452.0h0M487.6 456.5h0M522.5 442.0h0M455.9 510.7h0M548.6 431.9h0M481.2 467.5h0M511.5 472.4h0M494.6 454.8h0M525.6 416.5h0M533.3 439.5h0M479.4 449.1h0M480.9 485.2h0M492.1 460.4h0M481.5 479.6h0M484.7 509.3h0M477.5 442.2h0M490.0 470.4h0M538.7 423.1h0M465.4 458.4h0M547.2 463.5h0M510.7 484.6h0M508.3 475.9h0M527.3 473.8h0M496.9 490.5h0M496.1 462.3h0M521.9 441.8h0M485.1 459.8h0M511.6 454.7h0M573.6 425.3h0M465.0 474.8h0M461.9 487.8h0M505.2 504.3h0M444.3 516.8h0M522.5 438.1h0M543.5 472.1h0M535.4 466.5h0M472.8 488.7h0M496.9 463.3h0M541.0 423.8h0M482.8 475.9h0M559.4 454.8h0M551.9 424.7h0M491.8 449.7h0M525.9 439.8h0M578.1 425.2h0M457.8 500.2h0M459.6 471.8h0M491.2 481.1h0M479.4 458.8h0M520.7 441.8h0M517.5 471.8h0M466.9 464.3h0M494.6 458.4h0M456.9 498.1h0M482.3 494.2h0M531.8 433.9h0M495.5 431.5h0M505.5 495.2h0M529.6 475.5h0M489.9 468.8h0M557.5 425.1h0M475.1 458.3h0M518.0 433.9h0M564.6 431.2h0M475.2 469.0h0M510.1 463.7h0M513.2 476.5h0M462.2 499.5h0M513.7 466.2h0M534.4 434.8h0M525.7 472.4h0M442.4 519.1h0M454.8 478.6h0M541.2 475.7h0M488.1 477.9h0M467.7 492.5h0M468.4 494.5h0M505.7 458.8h0M470.6 471.8h0M468.6 493.1h0M496.7 487.7h0M525.9 466.2h0M464.7 457.5h0M493.9 479.9h0M572.6 434.2h0M492.0 458.8h0M543.3 422.1h0M536.2 452.5h0M475.2 471.8h0M529.4 442.2h0M477.2 490.2h0M574.0 433.4h0M533.6 448.9h0M432.8 495.9h0M460.9 460.3h0M489.7 486.1h0M497.8 470.6h0M488.1 481.7h0M552.7 435.7h0M538.9 444.7h0M533.0 461.7h0M573.8 443.3h0M430.4 533.1h0M462.5 495.1h0M580.2 446.1h0M536.8 465.2h0M564.7 421.4h0M586.6 424.4h0M540.4 429.6h0M487.3 477.4h0M478.2 495.5h0M479.0 502.5h0M542.0 446.9h0M466.0 487.6h0M518.4 464.8h0M550.8 444.6h0M511.2 421.7h0M480.9 479.0h0M517.7 482.0h0M486.7 461.8h0M576.0 438.5h0M526.0 459.3h0M485.9 499.3h0M522.7 494.9h0M533.5 445.4h0M518.6 462.1h0M448.6 526.9h0M510.5 453.1h0M512.8 478.7h0M487.1 493.9h0M488.8 441.6h0M470.4 494.4h0M498.7 474.8h0M535.9 456.6h0M453.2 492.0h0M507.7 426.6h0M560.0 400.5h0M509.4 454.9h0M528.6 451.6h0M436.8 493.1h0M516.6 427.7h0M555.0 446.2h0M523.2 475.2h0M559.4 437.5h0M541.9 433.0h0M481.3 448.9h0M475.7 477.2h0M482.0 439.2h0M550.5 434.4h0M524.3 451.3h0M516.0 484.3h0M526.7 426.9h0M476.3 505.8h0M445.3 517.2h0M550.2 431.5h0M447.9 471.0h0M491.3 461.2h0M491.7 492.4h0M513.1 468.1h0M517.4 457.4h0M454.6 485.5h0M487.6 466.0h0M546.2 433.1h0M547.3 409.4h0M493.1 484.1h0M460.8 471.2h0M467.8 474.4h0M570.0 444.6h0M570.6 446.9h0M539.3 445.3h0M439.5 503.5h0M574.4 429.5h0M453.1 477.0h0M548.8 461.3h0M512.3 485.7h0M442.8 487.3h0M539.4 416.7h0M540.4 449.0h0M556.0 452.8h0M488.4 472.4h0M486.7 478.9h0M470.1 467.6h0M572.0 406.1h0M590.7 398.1h0M543.9 467.6h0M515.2 486.6h0M555.4 432.5h0M502.4 474.3h0M477.5 482.6h0M493.5 465.1h0M450.6 504.3h0M486.9 499.3h0M523.6 440.8h0M490.1 487.3h0M495.3 453.6h0M472.8 488.8h0M554.5 457.1h0M449.1 483.7h0M531.7 401.3h0M574.1 399.3h0M543.0 403.9h0M528.2 413.1h0M524.7 408.3h0M528.4 409.1h0M561.1 404.1h0M557.3 413.1h0M524.5 411.1h0M540.4 418.9h0M536.0 401.0h0M532.4 410.5h0M537.5 408.0h0M549.5 402.0h0M552.3 399.5h0M550.8 404.5h0M537.5 415.2h0M532.5 423.3h0M550.7 407.7h0M550.9 399.6h0M561.1 392.8h0M544.7 406.9h0M536.1 407.6h0M562.0 403.2h0M543.9 412.4h0M569.8 400.9h0M553.0 406.8h0M551.4 419.0h0M546.0 411.7h0M565.1 396.6h0M539.3 414.2h0M528.6 407.6h0M532.6 398.3h0M526.8 417.0h0M527.5 422.6h0M550.2 412.0h0M562.7 402.6h0M542.9 399.0h0M535.2 412.4h0M518.6 405.4h0" stroke="#1f77b4" stroke-width="4.30" stroke-linecap="round" fill="none"/>
<line x1="376.3" y1="521.4" x2="668.0" y2="326.8" stroke="#ff7f0e" stroke-width="0.9"/>
<rect x="362.0" y="315.7" width="320.5" height="249.7" fill="none" stroke="#585858" stroke-width="1.05"/>
<path d="M372.4 565.4v1.8M408.5 565.4v1.8M444.6 565.4v1.8M480.7 565.4v1.8M516.8 565.4v1.8M552.9 565.4v1.8M589.0 565.4v1.8M625.1 565.4v1.8M661.2 565.4v1.8M362.0 548.2h-1.8M362.0 500.2h-1.8M362.0 452.2h-1.8M362.0 404.1h-1.8M362.0 356.1h-1.8" stroke="#4a4a4a" stroke-width="0.7" fill="none"/>
<g filter="url(#nf)"><text class="t" x="371.9" y="574.2" text-anchor="middle" textLength="8.3" lengthAdjust="spacingAndGlyphs">0.1</text><text class="t" x="408.0" y="574.2" text-anchor="middle" textLength="8.3" lengthAdjust="spacingAndGlyphs">0.2</text><text class="t" x="444.1" y="574.2" text-anchor="middle" textLength="8.3" lengthAdjust="spacingAndGlyphs">0.3</text><text class="t" x="480.2" y="574.2" text-anchor="middle" textLength="8.3" lengthAdjust="spacingAndGlyphs">0.4</text><text class="t" x="516.3" y="574.2" text-anchor="middle" textLength="8.3" lengthAdjust="spacingAndGlyphs">0.5</text><text class="t" x="552.4" y="574.2" text-anchor="middle" textLength="8.3" lengthAdjust="spacingAndGlyphs">0.6</text><text class="t" x="588.5" y="574.2" text-anchor="middle" textLength="8.3" lengthAdjust="spacingAndGlyphs">0.7</text><text class="t" x="624.6" y="574.2" text-anchor="middle" textLength="8.3" lengthAdjust="spacingAndGlyphs">0.8</text><text class="t" x="660.7" y="574.2" text-anchor="middle" textLength="8.3" lengthAdjust="spacingAndGlyphs">0.9</text><text class="t" x="357.3" y="550.5" text-anchor="end" textLength="8.3" lengthAdjust="spacingAndGlyphs">0.0</text><text class="t" x="357.3" y="502.5" text-anchor="end" textLength="8.3" lengthAdjust="spacingAndGlyphs">0.2</text><text class="t" x="357.3" y="454.5" text-anchor="end" textLength="8.3" lengthAdjust="spacingAndGlyphs">0.4</text><text class="t" x="357.3" y="406.4" text-anchor="end" textLength="8.3" lengthAdjust="spacingAndGlyphs">0.6</text><text class="t" x="357.3" y="358.4" text-anchor="end" textLength="8.3" lengthAdjust="spacingAndGlyphs">0.8</text></g>
<text class="c" x="456.8" y="620.4" textLength="121.0" lengthAdjust="spacing">(d) 2007-2012</text>
</g>
<g>
<path d="M192.7 713.0h0M144.8 730.8h0M168.2 731.9h0M177.4 728.7h0M182.9 725.3h0M185.3 723.5h0M191.6 730.6h0M147.5 743.7h0M156.7 744.3h0M157.2 746.4h0M177.4 741.9h0M166.4 749.5h0M122.5 765.3h0M145.4 757.7h0M146.7 759.5h0M150.6 760.0h0M156.7 758.2h0M149.3 767.4h0M259.3 664.1h0M243.6 671.5h0M309.8 665.7h0M320.8 678.0h0M318.7 683.6h0M309.0 679.4h0M300.0 682.0h0M295.6 692.5h0M290.6 695.9h0M302.4 705.4h0M271.7 680.7h0M270.9 685.9h0M273.0 692.0h0M246.2 681.2h0M246.2 687.2h0M247.2 697.2h0M263.0 697.0h0M268.5 700.9h0M274.8 703.0h0M280.3 702.5h0M283.5 703.3h0M276.9 710.4h0M247.5 706.2h0M222.3 705.1h0M266.7 710.9h0M264.3 714.0h0M273.8 714.3h0M267.7 721.4h0M273.0 723.2h0M275.6 724.5h0M284.8 725.9h0M284.0 730.1h0M265.1 728.5h0M276.4 731.9h0M275.6 735.3h0M273.0 738.5h0M267.7 740.6h0M265.1 743.2h0M274.3 749.8h0M261.9 755.0h0M246.2 756.9h0M208.1 714.8h0M211.2 716.7h0M216.5 714.0h0M219.9 710.4h0M207.3 720.1h0M225.2 713.5h0M240.1 707.5h0M241.5 712.2h0M249.3 714.3h0M252.5 712.2h0M255.9 713.5h0M257.7 716.1h0M258.5 720.1h0M254.6 721.4h0M258.5 726.6h0M252.0 729.3h0M254.1 731.9h0M255.9 738.5h0M254.6 743.2h0M250.6 747.7h0M248.0 741.1h0M29.8 874.3h0M68.7 845.1h0M94.9 849.8h0M120.9 848.8h0M147.7 842.7h0M105.2 836.4h0M84.4 827.5h0M86.3 819.4h0M79.7 816.5h0M98.6 806.0h0M104.6 792.0h0M104.1 811.0h0M107.8 811.0h0M112.5 811.7h0M104.1 817.8h0M103.3 822.3h0M107.8 823.6h0M111.7 817.0h0M114.4 820.9h0M119.1 818.8h0M119.9 823.0h0M127.0 820.9h0M127.5 825.7h0M134.9 824.4h0M144.6 821.5h0M151.4 828.0h0M151.4 814.4h0M153.3 812.3h0M159.3 819.6h0M163.8 813.8h0M163.8 817.8h0M173.0 812.3h0M173.0 816.2h0M182.9 810.4h0M187.4 813.1h0M180.8 824.9h0M182.2 832.0h0M192.7 824.9h0M109.1 796.0h0M112.5 798.6h0M115.2 801.2h0M117.8 805.2h0M118.6 790.7h0M120.4 796.0h0M122.5 785.5h0M125.7 789.4h0M121.7 813.1h0M124.4 802.5h0M128.3 793.4h0M129.6 798.6h0M128.3 805.2h0M130.9 802.5h0M129.6 813.1h0M133.0 814.9h0M134.9 809.1h0M137.5 812.5h0M136.2 801.2h0M140.1 810.4h0M142.7 812.5h0M146.7 813.1h0M130.9 785.5h0M134.9 781.5h0M137.5 788.1h0M138.8 776.3h0M142.7 777.6h0M227.5 803.6h0M217.0 820.9h0M209.9 814.4h0M199.4 808.3h0M202.0 808.3h0M196.8 814.4h0M181.0 825.1h0M182.1 831.7h0M183.1 810.4h0M171.8 810.4h0M163.9 813.1h0M163.2 818.8h0M166.6 806.0h0M213.1 798.6h0M204.7 789.9h0M208.6 793.4h0M199.4 792.0h0M194.2 795.2h0M214.7 781.5h0M219.9 784.2h0M219.1 776.3h0M224.4 772.3h0M229.6 771.5h0M228.3 767.1h0M234.4 764.5h0M237.5 761.0h0M208.3 761.9h0M196.5 737.5h0M160.1 796.0h0M199.3 767.5h0M149.9 795.9h0M179.7 764.1h0M133.1 814.5h0M233.7 710.0h0M138.6 788.8h0M157.5 802.0h0M161.4 792.4h0M228.2 732.3h0M194.7 770.8h0M192.7 767.8h0M220.9 759.1h0M192.3 767.9h0M190.7 763.2h0M199.6 739.7h0M189.5 742.2h0M181.6 780.8h0M196.2 758.0h0M202.2 738.8h0M233.3 732.8h0M180.5 775.2h0M243.1 731.3h0M145.7 806.5h0M171.9 759.8h0M188.7 731.1h0M216.0 749.6h0M177.0 759.7h0M184.0 785.1h0M212.9 753.4h0M235.0 741.1h0M257.6 733.0h0M150.9 815.0h0M223.7 750.2h0M171.2 783.4h0M267.2 714.3h0M219.2 736.8h0M228.9 726.1h0M167.2 785.4h0M165.4 794.7h0M233.3 749.2h0M189.7 779.4h0M171.4 766.2h0M176.6 784.0h0M210.2 747.0h0M220.9 745.8h0M129.9 794.4h0M210.4 738.3h0M148.5 781.3h0M194.2 773.2h0M221.7 752.8h0M208.9 719.0h0M139.6 799.1h0M244.4 724.1h0M179.1 798.0h0M128.9 817.9h0M179.4 811.5h0M132.0 798.5h0M177.9 787.7h0M178.0 788.6h0M225.7 718.5h0M266.6 708.6h0M219.3 725.4h0M254.7 703.5h0M235.9 749.9h0M135.4 786.9h0M189.2 769.1h0M160.8 807.3h0M242.7 727.5h0M154.5 783.2h0M203.5 750.7h0M272.4 717.4h0M146.8 793.8h0M169.5 771.3h0M200.1 755.8h0M172.3 771.8h0M174.3 768.8h0M181.8 791.3h0M210.4 766.8h0M244.1 726.9h0M209.3 754.1h0M236.2 752.6h0M226.7 755.6h0M187.4 773.0h0M155.5 791.9h0M209.6 762.5h0M147.4 803.5h0M201.5 741.6h0M222.4 742.9h0M157.0 773.1h0M193.4 769.6h0M225.1 735.8h0M210.4 774.2h0M170.7 807.8h0M199.5 761.4h0M225.9 742.0h0M179.4 739.3h0M155.8 811.0h0M170.7 770.9h0M180.1 781.1h0M152.5 766.5h0M170.3 797.8h0M188.2 782.2h0M184.3 749.2h0M176.6 776.8h0M179.4 777.5h0M221.8 739.2h0M180.4 789.1h0M187.8 755.3h0M191.9 768.6h0M128.0 789.6h0M139.3 820.3h0M179.1 773.9h0M194.2 777.8h0M181.4 783.1h0M127.9 810.3h0M167.8 774.5h0M187.4 753.4h0M217.4 735.9h0M235.7 728.0h0M186.6 747.4h0M159.4 787.2h0M223.3 751.9h0M218.1 763.7h0M173.2 769.0h0M218.0 730.6h0M190.1 762.7h0M214.9 744.6h0M146.0 804.3h0M244.1 754.9h0M215.0 759.3h0M228.4 756.9h0M194.3 798.6h0M191.1 749.3h0M138.9 779.6h0M167.0 782.8h0M161.3 794.4h0M146.9 810.8h0M233.4 749.3h0M224.5 749.3h0M204.9 766.9h0M215.9 743.3h0M175.6 759.9h0M241.1 764.3h0M207.8 754.6h0M212.7 735.5h0M221.2 752.1h0M266.3 720.4h0M161.3 794.7h0M187.8 775.3h0M185.9 765.1h0M226.5 735.8h0M168.2 791.5h0M233.3 745.1h0M173.6 747.1h0M179.3 763.0h0M190.9 766.3h0M158.7 800.7h0M237.5 757.2h0M202.5 779.8h0M184.0 772.1h0M134.3 783.3h0M186.0 750.1h0M159.2 771.7h0M169.4 772.5h0M197.6 766.5h0M188.3 778.4h0M207.7 763.2h0M161.9 771.6h0M183.6 783.5h0M172.9 772.1h0M167.6 802.5h0M251.1 750.5h0M246.6 730.4h0M154.6 762.0h0M185.3 787.3h0M194.9 743.4h0M217.0 737.4h0M255.2 723.8h0M206.0 761.6h0M140.6 800.7h0M240.6 732.1h0M160.0 785.2h0M256.0 736.4h0M220.8 729.9h0M160.5 775.5h0M211.7 762.2h0M217.0 757.0h0M171.9 799.3h0M206.3 764.7h0M172.6 797.5h0M143.8 809.3h0M218.6 763.5h0M244.2 727.5h0M198.2 782.6h0M211.6 726.3h0M185.5 781.8h0M191.9 751.4h0M241.1 726.1h0M154.4 800.9h0M199.8 782.8h0M184.0 734.3h0M154.8 770.3h0M159.2 792.4h0M190.1 792.6h0M188.8 747.0h0M218.2 738.7h0M163.8 786.3h0M199.8 750.4h0M240.5 753.0h0M253.3 733.4h0M183.6 791.7h0M190.1 771.4h0M148.5 798.2h0M196.9 770.3h0M220.4 765.9h0M224.4 749.6h0M205.9 788.5h0M197.2 764.3h0M226.0 765.0h0M241.3 753.9h0M239.6 727.5h0M165.6 746.9h0M149.8 795.4h0M200.0 752.9h0M200.6 747.9h0M209.0 755.5h0M159.3 792.4h0M224.8 765.5h0M196.5 797.6h0M167.7 808.4h0M237.0 768.8h0M184.0 759.4h0M214.3 739.9h0M230.5 734.8h0M222.4 748.6h0M191.6 795.9h0M198.6 741.4h0M165.8 802.0h0M195.8 745.3h0M235.7 764.3h0M208.6 767.1h0M202.5 797.4h0M225.5 752.3h0M199.9 764.6h0M155.6 780.3h0M175.4 788.2h0M216.1 753.0h0M167.6 766.0h0M171.5 779.7h0M218.8 734.3h0M235.4 712.2h0M194.2 778.4h0M251.4 706.7h0M181.9 761.1h0M179.1 800.3h0M229.7 737.5h0M196.9 735.4h0M243.7 745.1h0M153.0 822.0h0M192.8 772.4h0M205.5 757.9h0M169.1 787.3h0M136.9 780.2h0M173.5 767.8h0M169.1 779.5h0M215.1 756.8h0M185.5 761.1h0M189.7 780.7h0M239.5 730.6h0M202.8 745.9h0M202.7 762.3h0M235.2 735.7h0M213.3 736.2h0M228.3 765.8h0M204.6 771.3h0M120.8 805.7h0M130.5 812.2h0M175.8 776.6h0M173.3 793.4h0M160.4 760.7h0M175.7 778.2h0M178.4 793.9h0M191.0 768.6h0M137.1 797.7h0M141.2 786.3h0M200.4 725.1h0M221.9 751.5h0M204.6 756.4h0M165.9 806.8h0M231.6 717.0h0M175.7 780.9h0M175.0 760.4h0M235.6 754.1h0M180.2 782.8h0M200.0 748.9h0M230.6 747.3h0M157.2 779.2h0M213.6 759.0h0M198.4 756.6h0M223.9 745.6h0M209.9 752.5h0M158.0 775.9h0M196.1 746.5h0M150.1 804.0h0M204.2 787.4h0M187.8 776.5h0M177.7 779.5h0M112.9 814.7h0M195.2 747.1h0M244.1 728.4h0M212.1 735.8h0M223.6 743.0h0M179.8 780.0h0M193.4 758.5h0M213.0 755.1h0M147.7 763.7h0M243.5 717.9h0M199.3 745.9h0M208.5 770.1h0M196.7 784.0h0M169.3 794.8h0M198.1 745.1h0M169.5 772.8h0M211.7 738.5h0M226.3 727.6h0M134.0 810.9h0M201.0 766.6h0M159.4 779.5h0M211.6 752.2h0M171.0 778.7h0M195.6 759.8h0M214.8 752.8h0M140.9 802.6h0M205.8 765.2h0M200.4 772.7h0M240.5 729.8h0M197.6 750.5h0M219.8 747.8h0M228.3 733.2h0M200.2 761.4h0M153.0 787.4h0M198.9 776.0h0M241.2 736.1h0M154.3 796.7h0M191.1 767.7h0M164.7 782.8h0M140.5 805.4h0M208.1 767.7h0M215.7 738.6h0M224.0 724.4h0M135.7 797.8h0M204.2 785.7h0M173.4 757.1h0M200.8 760.5h0M234.4 749.8h0M128.8 782.9h0M165.3 782.7h0M235.0 734.9h0M199.6 771.3h0M173.2 795.9h0M204.8 770.0h0M198.5 761.4h0M211.8 750.2h0M205.4 736.4h0M159.6 784.9h0M205.8 777.3h0M160.5 790.6h0M175.2 757.5h0M181.0 777.6h0M170.8 755.5h0M251.4 721.2h0M171.4 780.6h0M222.5 741.4h0M228.7 754.7h0M224.6 724.0h0M220.2 761.9h0M211.6 719.7h0M201.9 762.6h0M181.7 742.5h0M239.4 711.2h0M166.9 774.7h0M156.0 768.5h0M155.3 767.0h0M204.3 753.7h0M143.9 783.2h0M130.1 824.1h0M199.1 772.2h0M189.5 784.4h0M155.3 788.9h0M255.1 728.7h0M186.4 785.3h0M154.1 771.5h0M207.3 749.1h0M145.6 784.8h0M206.4 731.4h0M232.8 744.2h0M206.5 751.2h0M191.1 780.6h0M191.1 738.9h0M182.9 776.9h0M193.5 769.7h0M229.3 723.3h0M208.6 726.3h0M162.4 781.7h0M238.1 722.2h0M249.4 743.1h0M170.4 769.2h0M145.3 787.0h0M228.0 737.7h0M146.1 803.6h0M183.0 764.3h0M203.1 766.1h0M157.6 804.5h0M170.7 797.2h0M187.7 779.0h0M199.9 761.5h0M214.0 768.8h0M160.9 804.1h0M195.9 751.9h0M234.0 737.7h0M187.7 756.8h0M190.9 783.7h0M219.3 756.6h0M139.7 801.8h0M163.0 785.0h0M166.9 787.4h0M170.8 781.6h0M213.1 749.4h0M192.5 749.2h0M143.9 793.4h0M234.4 731.0h0M232.7 756.6h0M233.5 752.4h0M232.9 737.0h0M223.3 760.1h0M184.9 801.3h0M205.6 745.7h0M206.3 738.6h0M215.3 749.4h0M213.8 761.4h0M227.2 739.4h0M206.2 759.1h0M173.7 792.6h0M184.6 758.3h0M131.6 800.9h0M190.2 759.6h0M191.3 763.4h0M202.3 774.5h0M239.7 731.4h0M236.9 733.8h0M235.2 736.6h0M245.0 732.2h0M143.4 799.1h0M216.5 746.4h0M178.1 784.8h0M154.4 794.7h0M220.0 735.9h0M220.2 750.0h0M203.9 757.3h0M212.0 747.5h0M218.3 750.6h0M193.4 741.2h0M207.5 750.1h0M224.2 780.8h0M134.1 809.0h0M196.5 782.4h0M232.0 725.2h0M215.0 738.9h0M151.1 794.5h0M232.1 735.7h0M156.3 788.4h0M225.5 766.3h0M199.6 750.4h0M164.9 792.7h0M233.8 728.5h0M242.2 731.2h0M158.3 788.2h0M170.6 783.9h0M209.7 730.8h0M198.5 731.7h0M147.0 797.0h0M194.5 799.1h0M136.5 805.8h0M197.5 755.5h0M196.5 768.1h0M145.6 793.9h0M250.2 722.7h0M169.4 777.6h0M208.9 735.0h0M174.7 768.4h0M213.7 757.4h0M190.6 773.6h0M196.3 758.9h0M151.3 793.3h0M247.6 731.6h0M186.0 766.7h0M212.8 759.4h0M158.3 798.5h0M203.6 758.8h0M184.1 735.7h0M203.0 743.2h0M269.0 715.8h0M180.4 776.9h0M198.9 731.9h0M232.3 743.9h0M174.8 763.7h0M258.8 733.6h0M251.3 723.4h0M195.8 766.9h0M171.7 785.3h0M239.1 759.0h0M180.1 773.2h0M155.0 796.0h0M145.3 784.0h0M217.7 772.0h0M244.4 749.6h0M190.1 763.3h0M228.1 749.3h0M234.3 746.7h0M225.5 761.4h0M203.8 764.1h0M199.5 725.4h0M193.2 764.6h0M197.9 757.0h0M115.5 801.3h0M196.9 783.5h0M201.4 742.3h0M193.8 781.7h0M196.6 729.9h0M195.4 735.1h0M244.9 753.1h0M224.9 767.7h0M213.0 744.0h0M186.5 795.6h0M180.0 779.2h0M209.8 756.5h0M211.0 759.8h0M135.4 802.0h0M242.4 749.4h0M156.1 820.5h0M258.7 742.8h0M230.4 740.1h0M188.0 767.7h0M211.0 761.8h0M244.8 722.3h0M196.9 754.8h0M165.8 770.3h0M183.3 775.5h0M151.7 789.5h0M208.0 780.7h0M204.2 751.5h0M239.4 718.3h0M172.0 758.5h0M211.2 757.9h0M165.6 767.8h0M222.4 755.1h0M204.5 765.3h0M165.5 797.8h0M215.2 746.8h0M206.3 753.6h0M195.2 749.1h0M135.0 788.2h0M152.5 794.1h0M197.0 762.9h0M208.8 770.5h0M252.1 711.4h0M211.3 742.7h0M178.8 803.2h0M138.3 791.8h0M207.8 772.2h0M173.2 804.3h0M188.4 762.5h0M235.2 760.8h0M230.3 739.2h0M189.5 767.6h0M205.5 728.0h0M245.1 720.1h0M166.3 786.1h0M224.3 740.4h0M164.7 753.2h0M180.3 773.5h0M156.9 807.4h0M204.8 762.3h0M209.9 755.0h0M199.4 754.1h0M245.8 729.5h0M224.5 762.6h0M161.0 787.9h0M227.3 758.7h0M240.5 750.6h0M201.5 760.1h0M251.1 744.3h0M164.5 786.7h0M221.2 735.8h0M151.8 803.1h0M150.2 762.9h0M210.4 743.2h0M119.0 806.6h0M186.9 752.5h0M138.1 775.1h0M220.3 737.0h0M207.1 749.4h0M199.4 764.0h0M204.3 753.3h0M237.5 726.6h0M173.2 772.1h0M233.3 748.7h0M195.5 743.0h0M214.3 758.2h0M219.8 730.7h0M223.4 741.3h0M210.4 741.9h0M166.0 792.6h0M172.7 773.8h0M193.8 754.5h0M241.2 744.1h0M200.5 752.5h0M125.9 809.4h0M134.6 814.2h0M160.4 767.6h0M171.7 789.5h0M219.4 751.8h0M144.1 778.0h0M227.5 749.9h0M133.7 814.2h0M159.1 760.9h0M166.2 770.1h0M235.9 734.7h0M203.4 738.7h0M220.2 774.7h0M167.4 769.0h0M125.4 791.2h0M269.0 723.1h0M156.3 810.5h0M149.4 803.2h0M165.1 753.0h0M155.4 818.8h0M131.8 813.1h0M247.9 756.9h0M181.0 763.3h0M177.2 782.0h0M174.3 773.6h0M161.6 763.3h0M124.7 794.3h0M226.7 746.2h0M177.7 756.6h0M154.6 795.1h0M157.8 784.8h0M156.6 800.6h0M213.2 755.3h0M198.1 737.5h0M119.0 822.4h0M190.5 745.4h0M151.4 794.7h0M209.2 774.9h0M174.1 778.7h0M171.3 770.8h0M222.1 755.6h0M214.3 746.1h0M190.8 780.2h0M248.8 750.3h0M200.0 748.3h0M123.6 812.8h0M213.4 765.5h0M193.3 754.6h0M165.0 788.6h0M153.9 782.3h0M181.5 749.4h0M235.3 762.2h0M198.3 759.4h0M197.4 757.4h0M183.9 756.0h0M215.3 745.5h0M172.1 760.1h0M142.2 780.7h0M213.9 767.1h0M193.8 775.4h0M199.2 752.3h0M255.4 730.4h0M227.3 741.2h0M236.5 732.0h0M157.2 775.7h0M232.9 744.3h0M118.4 827.1h0M193.9 753.8h0M174.5 760.7h0M174.2 800.0h0M208.2 767.6h0M239.4 719.2h0M178.2 785.3h0M200.3 742.6h0M197.3 765.3h0M231.0 731.4h0M168.7 791.6h0M114.6 818.4h0M178.8 766.9h0M167.9 788.6h0M178.1 784.0h0M181.2 783.2h0M233.7 743.7h0M205.6 752.7h0M154.3 823.3h0M150.1 799.0h0M190.8 790.7h0M213.2 759.9h0M219.3 766.0h0M206.5 721.4h0M193.3 761.7h0M201.8 766.1h0M208.2 784.2h0M162.6 787.3h0M181.3 780.2h0M225.0 760.4h0M170.1 790.8h0M209.4 775.3h0M149.8 811.3h0M127.8 812.7h0M165.7 785.4h0M241.4 741.1h0M233.5 741.0h0M232.7 764.7h0M136.6 807.8h0M174.2 780.3h0M201.5 783.1h0M193.2 778.2h0M255.9 733.2h0M169.8 753.9h0M200.0 771.0h0M172.8 780.2h0M198.9 776.6h0M201.0 751.2h0M188.4 745.6h0M154.9 789.5h0M223.1 741.6h0M241.6 721.7h0M150.2 770.4h0M169.0 763.5h0M191.6 749.3h0M184.9 746.4h0M247.0 710.4h0M186.2 769.6h0M161.5 786.8h0M195.8 755.6h0M241.3 750.6h0M198.9 751.9h0M186.8 797.7h0M175.8 786.8h0M150.5 789.4h0M177.2 780.5h0M195.1 766.8h0M209.5 747.9h0M198.4 756.7h0M216.6 757.9h0M227.6 723.6h0M186.2 748.6h0M211.4 747.1h0M254.9 749.5h0M221.0 760.0h0M198.1 799.4h0M220.5 730.2h0M154.1 765.0h0M169.1 784.4h0M149.2 787.6h0M174.0 783.4h0M189.2 789.0h0M203.9 767.3h0M232.9 745.9h0M202.1 757.0h0M227.2 725.1h0M186.0 790.5h0M181.9 783.6h0M205.9 767.1h0M194.8 765.8h0M192.3 786.5h0M221.6 760.5h0M125.4 824.7h0M170.1 791.4h0M196.3 777.4h0M190.9 756.4h0M153.2 805.0h0M236.1 735.0h0M217.1 756.5h0M185.9 775.1h0M158.7 771.6h0M146.2 808.2h0M146.2 767.2h0M155.9 772.3h0M241.5 758.9h0M172.7 759.5h0M191.7 776.4h0M191.1 778.2h0M164.3 770.2h0M121.3 821.7h0M188.5 755.6h0M194.2 774.1h0M161.3 776.1h0M144.0 783.0h0M139.0 810.7h0M191.8 788.6h0M216.9 751.9h0M229.9 730.0h0M175.7 797.0h0M177.7 758.9h0M133.2 786.4h0M134.8 793.7h0M207.6 772.4h0M139.6 800.4h0M208.4 778.4h0M205.8 754.9h0M189.7 774.7h0M138.5 815.4h0M266.1 711.2h0M209.0 769.9h0M190.1 750.3h0M157.4 798.8h0M176.6 785.6h0M210.2 768.8h0M196.1 760.3h0M200.6 758.5h0M140.9 820.6h0M126.5 804.9h0M210.8 747.5h0M245.9 737.9h0M230.3 740.3h0M222.5 759.8h0M188.8 782.4h0M227.2 739.1h0M206.5 774.5h0M232.2 752.3h0M123.8 820.1h0M146.2 808.2h0M147.8 787.4h0M239.4 735.0h0M243.2 726.4h0M232.7 715.5h0M164.2 755.1h0M162.5 799.9h0M224.0 761.1h0M155.6 775.3h0M183.4 781.1h0M165.7 798.1h0M200.9 763.5h0M169.8 745.1h0M216.0 772.6h0M203.7 770.7h0M173.8 746.0h0M239.3 732.3h0" stroke="#1f77b4" stroke-width="4.30" stroke-linecap="round" fill="none"/>
<line x1="29.4" y1="851.4" x2="321.1" y2="647.2" stroke="#ff7f0e" stroke-width="0.9"/>
<rect x="15.4" y="636.5" width="320.1" height="249.5" fill="none" stroke="#585858" stroke-width="1.05"/>
<path d="M32.4 886.0v1.8M81.7 886.0v1.8M131.0 886.0v1.8M180.2 886.0v1.8M229.5 886.0v1.8M278.8 886.0v1.8M328.1 886.0v1.8M15.4 884.3h-1.8M15.4 849.8h-1.8M15.4 815.3h-1.8M15.4 780.8h-1.8M15.4 746.3h-1.8M15.4 711.8h-1.8M15.4 677.3h-1.8M15.4 642.8h-1.8" stroke="#4a4a4a" stroke-width="0.7" fill="none"/>
<g filter="url(#nf)"><text class="t" x="31.9" y="894.8" text-anchor="middle" textLength="8.3" lengthAdjust="spacingAndGlyphs">0.8</text><text class="t" x="81.2" y="894.8" text-anchor="middle" textLength="8.3" lengthAdjust="spacingAndGlyphs">1.0</text><text class="t" x="130.5" y="894.8" text-anchor="middle" textLength="8.3" lengthAdjust="spacingAndGlyphs">1.2</text><text class="t" x="179.7" y="894.8" text-anchor="middle" textLength="8.3" lengthAdjust="spacingAndGlyphs">1.4</text><text class="t" x="229.0" y="894.8" text-anchor="middle" textLength="8.3" lengthAdjust="spacingAndGlyphs">1.6</text><text class="t" x="278.3" y="894.8" text-anchor="middle" textLength="8.3" lengthAdjust="spacingAndGlyphs">1.8</text><text class="t" x="327.6" y="894.8" text-anchor="middle" textLength="8.3" lengthAdjust="spacingAndGlyphs">2.0</text><text class="t" x="10.7" y="886.6" text-anchor="end" textLength="8.3" lengthAdjust="spacingAndGlyphs">0.6</text><text class="t" x="10.7" y="852.1" text-anchor="end" textLength="8.3" lengthAdjust="spacingAndGlyphs">0.8</text><text class="t" x="10.7" y="817.6" text-anchor="end" textLength="8.3" lengthAdjust="spacingAndGlyphs">1.0</text><text class="t" x="10.7" y="783.1" text-anchor="end" textLength="8.3" lengthAdjust="spacingAndGlyphs">1.2</text><text class="t" x="10.7" y="748.6" text-anchor="end" textLength="8.3" lengthAdjust="spacingAndGlyphs">1.4</text><text class="t" x="10.7" y="714.1" text-anchor="end" textLength="8.3" lengthAdjust="spacingAndGlyphs">1.6</text><text class="t" x="10.7" y="679.6" text-anchor="end" textLength="8.3" lengthAdjust="spacingAndGlyphs">1.8</text><text class="t" x="10.7" y="645.1" text-anchor="end" textLength="8.3" lengthAdjust="spacingAndGlyphs">2.0</text></g>
<text class="c" x="111.6" y="927.5" textLength="116.8" lengthAdjust="spacing">(e) 2009-2014</text>
</g>
<g>
<path d="M525.3 712.2h0M538.7 710.4h0M533.4 716.1h0M534.2 720.1h0M523.4 720.9h0M520.8 725.3h0M517.6 729.3h0M513.2 732.7h0M515.0 735.3h0M487.4 734.8h0M477.4 739.3h0M478.2 743.7h0M454.1 747.7h0M491.4 745.0h0M490.6 749.0h0M497.9 745.0h0M499.3 749.0h0M505.8 742.4h0M507.1 745.0h0M480.9 751.6h0M479.5 755.5h0M469.0 757.4h0M474.3 756.9h0M457.2 764.0h0M450.1 769.5h0M451.2 773.9h0M461.9 767.4h0M470.4 764.7h0M473.0 767.4h0M466.4 772.6h0M515.0 739.8h0M520.3 737.2h0M528.2 730.6h0M532.1 728.0h0M571.7 658.6h0M629.0 653.3h0M668.4 679.9h0M636.4 670.7h0M641.4 670.2h0M638.5 675.4h0M642.2 678.8h0M648.5 679.9h0M623.0 683.3h0M631.4 684.1h0M641.1 690.7h0M652.7 692.5h0M661.3 723.5h0M651.6 735.8h0M642.4 742.1h0M647.7 710.4h0M644.3 719.6h0M600.1 692.0h0M619.8 699.8h0M612.2 697.7h0M606.2 699.1h0M602.2 699.1h0M600.9 703.0h0M608.8 704.8h0M614.0 704.8h0M599.6 707.5h0M600.4 710.9h0M615.4 708.3h0M624.5 708.3h0M630.6 707.5h0M636.4 710.9h0M630.6 713.0h0M625.9 714.8h0M635.8 719.3h0M630.6 722.7h0M611.9 714.3h0M605.6 718.0h0M612.7 720.6h0M608.0 722.7h0M603.5 729.3h0M607.5 728.0h0M621.9 730.1h0M625.9 728.5h0M627.2 731.9h0M631.1 733.7h0M602.2 741.6h0M600.9 746.4h0M606.2 746.9h0M622.4 752.9h0M620.6 760.3h0M630.6 763.4h0M600.9 762.1h0M642.9 775.3h0M552.3 703.0h0M562.8 700.9h0M572.0 701.7h0M572.0 705.6h0M579.9 704.3h0M583.8 707.5h0M588.6 701.7h0M586.5 710.9h0M590.4 713.5h0M539.2 710.9h0M533.9 716.1h0M534.4 720.1h0M557.5 713.5h0M565.4 713.5h0M566.7 716.1h0M568.1 720.1h0M577.3 714.8h0M577.3 720.1h0M582.5 722.7h0M585.1 720.1h0M589.1 718.8h0M593.0 720.6h0M595.6 721.4h0M598.3 722.7h0M575.9 726.6h0M579.9 725.3h0M591.7 726.6h0M590.4 731.9h0M583.8 733.2h0M586.5 735.8h0M582.5 742.4h0M585.1 745.0h0M591.7 743.7h0M593.0 747.7h0M581.2 749.0h0M583.8 751.6h0M594.3 752.9h0M587.8 759.0h0M581.2 764.7h0M582.5 767.4h0M573.3 766.1h0M574.6 771.3h0M586.5 772.6h0M548.4 720.1h0M553.6 721.4h0M377.1 843.0h0M387.3 837.5h0M385.0 865.6h0M395.2 874.3h0M410.4 854.0h0M402.8 827.0h0M408.6 820.9h0M408.6 824.9h0M409.9 813.8h0M414.4 812.3h0M416.5 815.7h0M417.8 819.6h0M419.9 820.9h0M411.2 830.1h0M413.9 834.1h0M421.2 832.8h0M423.1 835.9h0M428.8 836.2h0M433.6 835.7h0M421.0 845.4h0M423.6 847.7h0M440.1 850.6h0M447.2 849.8h0M445.4 843.3h0M457.2 846.7h0M453.3 839.9h0M448.5 833.6h0M436.2 828.8h0M440.7 828.0h0M425.7 827.0h0M429.6 822.3h0M440.1 823.0h0M450.6 827.5h0M453.3 826.2h0M449.3 820.9h0M452.0 822.3h0M459.3 824.4h0M461.7 830.7h0M463.8 833.3h0M433.6 813.8h0M436.2 810.4h0M428.8 805.2h0M433.6 802.5h0M440.1 813.1h0M443.6 811.7h0M444.1 818.3h0M446.7 815.7h0M436.2 782.1h0M436.2 787.3h0M450.1 769.7h0M450.6 775.0h0M457.2 763.9h0M461.2 767.9h0M449.9 782.8h0M446.7 788.9h0M456.7 782.8h0M458.5 786.8h0M442.8 801.2h0M446.7 802.5h0M476.9 820.9h0M480.9 822.8h0M490.1 824.9h0M493.2 829.3h0M495.3 819.6h0M507.1 818.8h0M515.8 823.6h0M517.6 817.0h0M519.0 811.7h0M520.3 805.7h0M535.0 832.8h0M530.8 805.2h0M533.4 807.3h0M643.5 776.3h0M602.2 790.2h0M534.7 833.0h0M515.5 824.1h0M507.6 818.3h0M518.1 812.3h0M517.3 817.5h0M519.5 806.0h0M513.4 802.5h0M549.7 812.3h0M543.6 806.0h0M549.7 803.3h0M551.0 797.3h0M531.3 804.4h0M533.1 807.8h0M530.0 799.1h0M535.2 797.3h0M537.8 800.7h0M569.9 803.3h0M569.4 797.3h0M571.5 798.6h0M570.7 790.2h0M560.2 789.4h0M577.3 781.0h0M563.3 780.2h0M572.0 776.8h0M573.8 770.5h0M581.2 776.3h0M589.1 773.6h0M585.1 770.5h0M582.0 767.1h0M581.2 764.5h0M587.8 759.7h0M594.3 753.2h0M583.8 752.6h0M573.8 766.3h0M564.1 765.0h0M565.4 771.0h0M562.8 771.5h0M553.1 781.5h0M544.4 786.0h0M543.1 792.0h0M539.2 789.4h0M504.8 763.5h0M525.2 781.2h0M560.3 771.8h0M580.1 740.2h0M503.8 754.8h0M521.1 764.9h0M519.7 770.9h0M541.3 740.4h0M530.5 728.5h0M464.4 809.2h0M548.6 772.5h0M577.2 721.0h0M509.8 764.1h0M494.1 810.3h0M549.9 732.9h0M521.2 767.5h0M498.8 776.1h0M570.3 747.7h0M486.7 770.1h0M511.9 797.7h0M563.8 757.6h0M495.1 801.5h0M530.6 741.9h0M502.3 771.1h0M574.8 746.4h0M537.2 740.5h0M533.3 773.9h0M510.5 760.2h0M533.9 775.3h0M534.1 778.1h0M434.4 815.2h0M553.5 740.0h0M530.4 773.5h0M515.0 797.4h0M515.4 772.2h0M523.6 745.7h0M495.9 767.6h0M523.5 784.7h0M550.6 763.3h0M537.0 768.7h0M498.4 778.6h0M590.3 713.6h0M516.0 739.8h0M518.0 774.5h0M479.4 788.8h0M521.3 779.6h0M442.9 816.0h0M521.2 774.4h0M480.0 811.2h0M498.1 755.9h0M522.7 796.2h0M541.6 763.3h0M514.5 767.6h0M527.9 762.3h0M518.8 772.6h0M495.4 789.2h0M471.1 806.5h0M491.2 792.8h0M499.6 782.5h0M534.3 765.1h0M520.3 762.7h0M504.6 779.6h0M530.5 792.7h0M542.2 763.4h0M470.4 780.8h0M478.8 796.1h0M542.5 769.1h0M478.4 794.6h0M569.7 718.4h0M570.9 730.7h0M535.6 739.0h0M538.7 771.5h0M547.0 760.9h0M485.1 785.9h0M513.7 755.6h0M527.5 771.2h0M514.5 781.5h0M504.3 754.0h0M532.8 767.2h0M504.4 787.9h0M509.5 801.2h0M540.4 760.7h0M543.5 736.3h0M529.0 781.1h0M469.6 782.6h0M549.1 775.9h0M480.3 771.3h0M519.7 730.9h0M536.8 741.0h0M513.5 779.9h0M559.9 729.8h0M497.3 762.0h0M535.0 728.3h0M552.7 742.3h0M483.2 783.1h0M526.9 774.9h0M463.8 820.6h0M496.3 761.0h0M562.6 711.7h0M535.7 785.0h0M488.1 807.8h0M506.8 750.4h0M509.9 781.7h0M537.2 744.3h0M554.1 764.8h0M482.9 798.1h0M545.5 749.3h0M479.3 757.2h0M495.8 784.4h0M513.1 787.0h0M515.4 769.5h0M526.9 758.0h0M496.2 798.9h0M559.0 748.8h0M559.2 736.4h0M452.9 813.3h0M584.4 717.6h0M578.7 751.1h0M495.5 799.0h0M540.8 731.2h0M519.5 759.9h0M500.5 785.4h0M523.1 737.0h0M536.8 747.7h0M560.0 731.6h0M490.7 752.5h0M513.3 770.7h0M515.5 758.7h0M510.1 766.2h0M584.5 743.4h0M528.5 749.8h0M545.3 759.1h0M524.9 796.0h0M514.3 769.4h0M472.2 808.6h0M512.4 766.4h0M510.3 748.1h0M545.5 737.9h0M449.0 817.2h0M524.6 772.0h0M525.6 774.9h0M484.5 789.7h0M520.2 773.1h0M515.2 753.0h0M536.3 743.3h0M540.1 753.8h0M504.5 743.2h0M522.8 751.5h0M494.1 808.6h0M470.9 801.9h0M472.7 780.7h0M502.4 786.2h0M580.9 737.7h0M534.8 756.4h0M501.9 754.7h0M517.7 763.3h0M540.8 777.9h0M518.0 736.5h0M563.3 759.3h0M532.1 772.9h0M554.7 741.0h0M561.0 763.4h0M510.6 791.6h0M539.5 750.3h0M435.6 809.7h0M526.3 743.0h0M548.1 763.2h0M510.0 751.0h0M492.6 779.0h0M481.6 767.8h0M565.7 737.4h0M484.1 796.2h0M513.1 776.4h0M530.5 787.0h0M470.7 812.9h0M552.2 769.4h0M524.3 748.6h0M445.8 802.5h0M531.5 765.2h0M476.5 793.0h0M456.7 797.2h0M517.0 770.3h0M570.4 757.7h0M472.5 788.6h0M558.3 763.3h0M475.5 797.9h0M538.0 771.7h0M511.2 783.6h0M558.7 727.1h0M456.6 793.9h0M570.8 746.4h0M553.3 772.7h0M495.0 797.7h0M509.8 766.1h0M516.7 786.7h0M511.7 776.8h0M499.7 791.1h0M488.7 782.3h0M597.6 721.7h0M524.2 782.1h0M492.8 758.5h0M501.7 771.6h0M547.9 762.8h0M557.4 733.2h0M538.0 773.7h0M520.4 803.4h0M518.8 767.2h0M498.5 775.0h0M460.4 817.0h0M457.8 804.1h0M495.9 765.1h0M483.4 781.9h0M512.4 768.9h0M541.4 729.1h0M564.1 768.3h0M531.9 781.8h0M523.8 783.7h0M548.9 738.7h0M514.0 791.9h0M500.5 771.2h0M547.4 735.6h0M475.6 798.3h0M543.7 746.9h0M506.0 802.2h0M578.5 737.8h0M447.5 807.5h0M519.2 774.6h0M506.3 801.3h0M560.7 749.0h0M436.5 825.6h0M479.9 789.0h0M539.6 759.9h0M536.3 758.8h0M504.4 792.1h0M557.7 733.3h0M574.0 747.5h0M486.5 792.2h0M517.7 772.2h0M443.7 816.0h0M524.1 758.0h0M503.1 779.0h0M559.1 722.7h0M519.2 768.7h0M517.0 754.5h0M522.8 763.4h0M570.4 748.9h0M478.1 794.7h0M584.8 720.2h0M457.4 789.2h0M524.5 760.3h0M457.5 817.4h0M494.9 768.3h0M482.6 806.7h0M458.5 791.2h0M500.0 766.5h0M511.5 762.6h0M484.5 778.7h0M495.5 796.1h0M553.7 770.5h0M521.3 761.0h0M526.3 763.0h0M555.5 758.5h0M574.1 709.6h0M527.9 764.4h0M473.0 812.0h0M490.5 781.8h0M552.8 745.2h0M530.9 758.0h0M491.8 790.7h0M521.1 745.9h0M507.5 750.0h0M561.5 747.0h0M532.0 737.6h0M472.6 810.2h0M550.5 735.0h0M491.3 801.9h0M537.6 734.0h0M499.2 796.4h0M560.6 728.6h0M470.9 812.9h0M506.6 757.6h0M545.2 753.0h0M487.4 756.9h0M576.5 723.9h0M532.5 774.8h0M473.1 812.6h0M462.6 804.8h0M464.2 775.9h0M463.2 790.3h0M525.4 770.9h0M509.8 766.9h0M496.5 770.5h0M565.4 717.6h0M587.4 722.9h0M535.6 789.6h0M508.2 792.4h0M502.1 785.9h0M495.1 784.4h0M483.4 773.3h0M505.2 747.4h0M548.3 757.9h0M492.9 767.8h0M500.7 810.6h0M505.8 792.3h0M595.2 724.7h0M562.0 734.0h0M514.9 775.7h0M522.5 753.0h0M522.6 775.8h0M492.7 791.7h0M487.2 792.0h0M542.7 757.7h0M460.2 798.5h0M551.0 733.1h0M540.9 736.7h0M497.8 803.8h0M521.4 755.3h0M490.8 768.6h0M466.1 789.0h0M478.5 805.9h0M470.4 792.8h0M575.8 745.8h0M502.3 769.1h0M484.5 788.3h0M505.3 793.8h0M466.3 780.9h0M511.8 787.8h0M557.5 745.4h0M472.0 817.5h0M511.3 785.1h0M529.4 785.5h0M460.7 807.4h0M542.7 763.5h0M513.1 787.7h0M526.1 772.7h0M515.2 762.5h0M519.5 801.4h0M589.7 740.7h0M513.6 758.6h0M523.0 762.5h0M538.2 776.6h0M533.2 742.4h0M510.8 750.3h0M578.7 736.1h0M555.1 741.8h0M563.0 746.4h0M462.2 784.1h0M545.4 744.5h0M484.2 798.9h0M531.7 759.6h0M486.0 790.4h0M538.0 770.8h0M510.7 786.6h0M549.9 752.4h0M514.3 754.6h0M531.5 770.1h0M556.9 772.0h0M467.7 793.0h0M507.9 754.9h0M523.7 763.8h0M554.1 757.9h0M461.7 790.3h0M488.6 779.2h0M484.1 792.6h0M498.9 795.4h0M492.1 776.9h0M511.6 763.3h0M482.5 804.2h0M468.7 816.1h0M510.4 777.4h0M530.0 745.3h0M534.5 764.4h0M481.0 765.2h0M520.5 751.8h0M497.0 775.4h0M508.9 769.4h0M510.1 766.2h0M515.1 762.9h0M495.4 775.2h0M497.8 814.9h0M518.7 767.8h0M479.2 770.2h0M497.3 770.8h0M500.7 777.9h0M529.0 746.5h0M489.4 809.2h0M573.6 736.6h0M598.7 724.4h0M458.6 799.1h0M542.0 750.1h0M499.3 773.8h0M467.8 824.6h0M510.4 762.0h0M500.7 796.4h0M519.9 770.6h0M517.9 757.9h0M532.6 742.1h0M553.2 760.1h0M513.0 809.7h0M494.1 811.0h0M488.7 791.3h0M528.7 772.8h0M505.1 784.0h0M542.0 767.1h0M565.8 737.8h0M498.1 768.3h0M552.8 739.4h0M528.0 737.3h0M519.6 788.0h0M466.3 792.7h0M577.3 731.9h0M508.9 784.8h0M560.6 769.0h0M490.8 758.3h0M508.1 775.7h0M570.9 714.7h0M532.5 736.2h0M443.9 831.0h0M519.3 786.0h0M491.5 800.7h0M521.5 781.0h0M555.2 745.9h0M567.0 767.1h0M439.6 817.1h0M515.3 757.8h0M546.0 762.4h0M557.4 750.3h0M504.6 759.9h0M545.8 750.1h0M521.1 730.0h0M509.4 773.4h0M521.7 778.2h0M566.7 710.1h0M535.5 792.3h0M447.5 810.1h0M485.9 800.7h0M502.7 792.0h0M498.7 783.8h0M528.5 760.7h0M487.7 765.6h0M555.9 717.2h0M481.9 803.7h0M504.8 760.5h0M509.3 771.4h0M511.9 773.9h0M488.3 776.7h0M484.3 789.0h0M547.1 762.2h0M549.5 754.0h0M526.8 768.6h0M524.9 743.1h0M477.8 810.6h0M475.3 823.1h0M467.9 778.9h0M506.9 765.3h0M517.8 736.9h0M527.8 761.7h0M475.4 809.6h0M462.0 805.1h0M525.1 741.4h0M571.0 753.9h0M529.1 734.0h0M483.1 788.4h0M520.5 776.2h0M512.9 786.4h0M462.1 791.3h0M511.2 758.6h0M503.2 791.8h0M474.9 815.9h0M488.8 782.1h0M537.5 750.3h0M488.8 782.8h0M573.5 740.0h0M512.3 762.6h0M556.0 767.3h0M519.5 755.6h0M482.6 783.9h0M516.9 770.0h0M517.1 766.2h0M486.0 811.7h0M535.5 741.1h0M586.4 735.7h0M533.0 763.1h0M488.9 781.5h0M505.5 778.0h0M488.6 806.7h0M498.9 758.2h0M533.4 747.1h0M498.4 804.6h0M538.3 766.1h0M487.5 803.9h0M547.3 730.6h0M490.6 796.9h0M481.8 759.2h0M473.3 792.5h0M547.9 787.4h0M551.3 729.2h0M521.9 784.1h0M553.7 739.7h0M561.7 752.4h0M444.6 812.8h0M542.0 782.7h0M482.5 813.8h0M541.9 792.3h0M560.5 764.2h0M543.6 761.4h0M487.0 797.0h0M529.4 774.5h0M518.0 781.3h0M517.3 772.1h0M557.3 774.0h0M527.7 758.1h0M485.4 807.7h0M518.2 754.0h0M525.4 753.4h0M548.6 763.1h0M466.7 794.4h0M537.3 763.2h0M494.9 777.2h0M518.9 755.4h0M557.9 752.6h0M541.5 773.7h0M562.0 773.5h0M485.2 799.6h0M545.6 770.2h0M550.4 746.1h0M542.4 727.1h0M490.1 791.3h0M586.9 718.0h0M459.9 786.2h0M516.3 763.7h0M551.0 760.1h0M555.4 736.2h0M472.4 820.1h0M531.5 746.4h0M472.5 780.2h0M530.0 738.2h0M558.4 765.3h0M587.8 747.2h0M493.4 803.2h0M491.0 790.1h0M501.3 785.9h0M496.7 804.4h0M548.6 745.7h0M566.2 748.0h0M501.1 781.7h0M570.5 739.9h0M532.3 749.5h0M555.7 775.9h0M530.3 776.2h0M530.3 758.5h0M500.0 790.5h0M554.9 763.1h0M549.3 732.8h0M513.4 775.7h0M491.1 812.4h0M516.0 780.0h0M526.4 751.5h0M576.2 720.9h0M531.0 739.0h0M555.2 747.4h0M508.0 799.0h0M475.3 808.9h0M527.5 796.2h0M540.1 736.9h0M544.3 751.5h0M557.1 748.4h0M575.6 754.6h0M524.9 777.0h0M568.1 721.4h0M566.7 738.6h0M543.8 753.4h0M463.5 790.2h0M518.7 778.1h0M450.1 800.6h0M501.9 810.2h0M477.8 792.3h0M514.6 766.2h0M575.4 747.9h0M469.9 817.9h0M446.9 803.6h0M529.3 754.2h0M478.0 810.0h0M549.8 733.5h0M518.0 784.9h0M530.3 756.2h0M491.1 775.8h0M484.2 807.6h0M487.6 797.6h0M529.0 754.3h0M580.9 719.7h0M445.0 819.1h0M481.9 776.2h0M549.7 747.6h0M471.1 805.1h0M514.5 757.2h0M583.3 748.8h0M514.7 801.3h0M509.2 774.1h0M560.3 743.3h0M542.8 759.0h0M523.6 751.1h0M555.9 761.9h0M565.6 713.6h0M561.2 751.4h0M563.9 744.6h0M481.7 791.1h0M575.3 726.4h0M541.8 739.4h0M498.2 774.1h0M539.8 761.8h0M491.8 758.4h0M528.3 742.8h0M549.0 742.6h0M493.5 789.1h0M565.7 742.4h0M556.9 743.7h0M484.1 804.6h0M506.0 787.3h0M577.8 712.2h0M478.3 774.9h0M499.1 780.5h0M528.6 757.9h0M478.3 767.5h0M518.6 756.5h0M511.2 754.1h0M468.5 814.4h0M480.8 791.9h0M556.1 757.7h0M555.8 744.4h0M537.5 739.6h0M500.5 806.1h0M446.3 825.9h0M562.1 768.0h0M534.8 751.9h0M562.0 760.9h0M539.0 768.3h0M542.1 754.2h0M506.7 749.7h0M517.0 740.5h0M575.0 723.5h0M546.2 747.8h0M499.6 791.5h0M523.8 778.8h0M525.2 749.0h0M493.3 770.5h0M493.7 782.9h0M540.3 764.6h0M523.8 778.4h0M468.8 792.1h0M454.1 821.7h0M524.5 738.8h0M499.1 742.0h0M483.6 818.3h0M541.6 758.7h0M523.4 751.6h0M478.5 775.8h0M455.3 794.3h0M520.3 749.9h0M488.2 760.3h0M495.9 780.2h0M566.5 751.0h0M563.8 730.4h0M477.4 792.1h0M522.6 748.6h0M481.5 786.8h0M548.4 729.7h0M556.3 778.4h0M586.2 733.0h0M565.9 749.5h0M468.9 770.8h0M522.1 772.8h0M464.6 806.5h0M548.1 763.8h0M538.2 776.5h0M511.0 760.7h0M487.0 806.1h0M524.4 758.5h0M478.1 767.1h0M502.1 775.4h0M551.8 755.5h0M533.6 771.3h0M490.9 782.0h0M499.6 800.7h0M545.2 749.7h0M467.9 788.7h0M520.6 770.9h0M572.1 712.6h0M529.7 783.9h0M544.3 735.7h0M532.6 786.4h0M534.9 762.2h0M525.1 777.5h0M474.1 775.7h0M485.3 782.2h0M496.1 746.9h0M502.3 777.8h0M578.6 735.2h0M548.2 778.9h0M460.7 808.6h0M497.6 805.3h0M516.8 778.2h0M556.4 765.6h0M465.2 813.0h0M499.1 767.3h0M536.0 771.7h0M580.0 731.9h0M554.8 754.6h0M552.2 743.7h0M490.2 783.7h0M589.8 708.5h0M489.5 785.6h0M550.3 732.3h0M474.4 768.7h0M499.2 765.0h0M549.3 779.5h0M514.5 783.6h0M540.6 779.2h0M571.6 740.2h0M560.2 732.2h0M532.8 733.1h0M529.8 724.7h0M529.7 750.8h0M544.6 743.2h0M526.4 781.4h0M526.4 767.7h0M486.3 786.7h0M440.9 820.7h0M537.3 741.5h0M456.0 806.2h0M481.5 799.1h0M516.9 776.9h0M468.3 808.7h0M565.3 747.8h0M566.0 744.9h0M478.8 799.2h0M448.4 813.3h0M562.1 754.6h0M544.7 721.1h0M528.1 788.5h0M494.8 788.3h0M511.6 774.2h0M499.8 772.4h0M500.0 761.4h0M538.0 731.3h0M506.7 777.3h0M476.4 786.2h0M502.3 769.3h0M469.5 796.7h0M493.4 773.7h0M485.4 778.1h0M481.9 818.7h0M541.5 764.9h0M578.8 736.8h0M504.3 760.2h0M521.8 767.0h0M497.3 773.9h0M474.3 794.5h0M558.2 731.1h0M545.0 753.7h0M543.3 761.9h0M527.2 800.3h0M503.0 781.6h0M525.9 799.2h0M481.3 772.5h0M472.4 799.1h0M497.1 764.6h0M518.2 755.0h0M493.9 785.6h0M543.5 736.8h0M494.4 756.3h0M493.7 774.4h0M511.1 754.3h0M483.0 800.6h0M522.5 803.2h0M481.1 782.4h0M460.1 814.3h0M495.2 786.9h0M580.3 748.6h0M564.3 756.2h0" stroke="#1f77b4" stroke-width="4.30" stroke-linecap="round" fill="none"/>
<line x1="376.3" y1="837.0" x2="668.4" y2="646.6" stroke="#ff7f0e" stroke-width="0.9"/>
<rect x="362.0" y="635.9" width="320.5" height="250.0" fill="none" stroke="#585858" stroke-width="1.05"/>
<path d="M410.4 885.9v1.8M462.9 885.9v1.8M515.5 885.9v1.8M568.0 885.9v1.8M620.6 885.9v1.8M673.1 885.9v1.8M362.0 884.2h-1.8M362.0 849.8h-1.8M362.0 815.4h-1.8M362.0 780.9h-1.8M362.0 746.5h-1.8M362.0 712.1h-1.8M362.0 677.7h-1.8M362.0 643.3h-1.8" stroke="#4a4a4a" stroke-width="0.7" fill="none"/>
<g filter="url(#nf)"><text class="t" x="409.9" y="894.7" text-anchor="middle" textLength="8.3" lengthAdjust="spacingAndGlyphs">0.6</text><text class="t" x="462.4" y="894.7" text-anchor="middle" textLength="8.3" lengthAdjust="spacingAndGlyphs">0.8</text><text class="t" x="515.0" y="894.7" text-anchor="middle" textLength="8.3" lengthAdjust="spacingAndGlyphs">1.0</text><text class="t" x="567.5" y="894.7" text-anchor="middle" textLength="8.3" lengthAdjust="spacingAndGlyphs">1.2</text><text class="t" x="620.1" y="894.7" text-anchor="middle" textLength="8.3" lengthAdjust="spacingAndGlyphs">1.4</text><text class="t" x="672.6" y="894.7" text-anchor="middle" textLength="8.3" lengthAdjust="spacingAndGlyphs">1.6</text><text class="t" x="357.3" y="886.5" text-anchor="end" textLength="8.3" lengthAdjust="spacingAndGlyphs">0.2</text><text class="t" x="357.3" y="852.1" text-anchor="end" textLength="8.3" lengthAdjust="spacingAndGlyphs">0.4</text><text class="t" x="357.3" y="817.7" text-anchor="end" textLength="8.3" lengthAdjust="spacingAndGlyphs">0.6</text><text class="t" x="357.3" y="783.2" text-anchor="end" textLength="8.3" lengthAdjust="spacingAndGlyphs">0.8</text><text class="t" x="357.3" y="748.8" text-anchor="end" textLength="8.3" lengthAdjust="spacingAndGlyphs">1.0</text><text class="t" x="357.3" y="714.4" text-anchor="end" textLength="8.3" lengthAdjust="spacingAndGlyphs">1.2</text><text class="t" x="357.3" y="680.0" text-anchor="end" textLength="8.3" lengthAdjust="spacingAndGlyphs">1.4</text><text class="t" x="357.3" y="645.6" text-anchor="end" textLength="8.3" lengthAdjust="spacingAndGlyphs">1.6</text></g>
<text class="c" x="459.8" y="927.5" textLength="115.6" lengthAdjust="spacing">(f) 2015-2019</text>
</g>
</svg></body></html>
